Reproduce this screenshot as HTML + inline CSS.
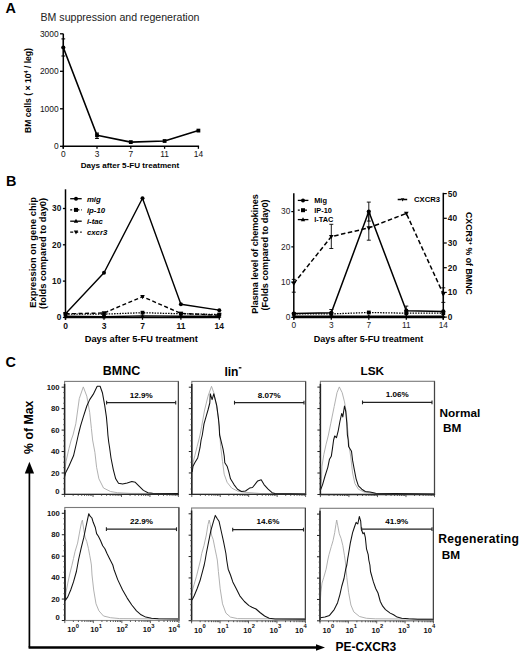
<!DOCTYPE html>
<html><head><meta charset="utf-8"><style>
html,body{margin:0;padding:0;background:#fff;}
svg{display:block;font-family:"Liberation Sans", sans-serif;}
</style></head><body>
<svg width="520" height="655" viewBox="0 0 520 655">
<rect width="520" height="655" fill="#fff"/>
<text x="5.4" y="12.9" font-size="14.4" font-weight="bold" font-style="normal" text-anchor="start" fill="#000" >A</text>
<text x="40.5" y="21.4" font-size="10.6" font-weight="normal" font-style="normal" text-anchor="start" fill="#222" >BM suppression and regeneration</text>
<line x1="63.3" y1="33.7" x2="63.3" y2="148.6" stroke="#000" stroke-width="1.5" stroke-linecap="butt"/>
<line x1="62.6" y1="146.3" x2="199.1" y2="146.3" stroke="#000" stroke-width="1.5" stroke-linecap="butt"/>
<line x1="60.0" y1="33.80000000000001" x2="63.3" y2="33.80000000000001" stroke="#000" stroke-width="1.3" stroke-linecap="butt"/>
<text x="58.6" y="36.80000000000001" font-size="8.4" font-weight="normal" font-style="normal" text-anchor="end" fill="#111" >3000</text>
<line x1="60.0" y1="71.30000000000001" x2="63.3" y2="71.30000000000001" stroke="#000" stroke-width="1.3" stroke-linecap="butt"/>
<text x="58.6" y="74.30000000000001" font-size="8.4" font-weight="normal" font-style="normal" text-anchor="end" fill="#111" >2000</text>
<line x1="60.0" y1="108.80000000000001" x2="63.3" y2="108.80000000000001" stroke="#000" stroke-width="1.3" stroke-linecap="butt"/>
<text x="58.6" y="111.80000000000001" font-size="8.4" font-weight="normal" font-style="normal" text-anchor="end" fill="#111" >1000</text>
<line x1="60.0" y1="146.3" x2="63.3" y2="146.3" stroke="#000" stroke-width="1.3" stroke-linecap="butt"/>
<text x="58.6" y="149.3" font-size="8.4" font-weight="normal" font-style="normal" text-anchor="end" fill="#111" >0</text>
<line x1="63.3" y1="146.3" x2="63.3" y2="148.8" stroke="#000" stroke-width="1.3" stroke-linecap="butt"/>
<text x="63.3" y="156.6" font-size="8.4" font-weight="normal" font-style="normal" text-anchor="middle" fill="#111" >0</text>
<line x1="97.0" y1="146.3" x2="97.0" y2="148.8" stroke="#000" stroke-width="1.3" stroke-linecap="butt"/>
<text x="97.0" y="156.6" font-size="8.4" font-weight="normal" font-style="normal" text-anchor="middle" fill="#111" >3</text>
<line x1="130.8" y1="146.3" x2="130.8" y2="148.8" stroke="#000" stroke-width="1.3" stroke-linecap="butt"/>
<text x="130.8" y="156.6" font-size="8.4" font-weight="normal" font-style="normal" text-anchor="middle" fill="#111" >7</text>
<line x1="164.6" y1="146.3" x2="164.6" y2="148.8" stroke="#000" stroke-width="1.3" stroke-linecap="butt"/>
<text x="164.6" y="156.6" font-size="8.4" font-weight="normal" font-style="normal" text-anchor="middle" fill="#111" >11</text>
<line x1="198.4" y1="146.3" x2="198.4" y2="148.8" stroke="#000" stroke-width="1.3" stroke-linecap="butt"/>
<text x="198.4" y="156.6" font-size="8.4" font-weight="normal" font-style="normal" text-anchor="middle" fill="#111" >14</text>
<text x="130.0" y="168.0" font-size="8.1" font-weight="bold" font-style="normal" text-anchor="middle" fill="#000" >Days after 5-FU treatment</text>
<text transform="translate(30.8,90.5) rotate(-90)" font-size="8.6" font-weight="bold" text-anchor="middle" fill="#000">BM cells ( &#215; 10<tspan dy="-3" font-size="5.5">4</tspan><tspan dy="3"> / leg)</tspan></text>
<polyline points="63.3,47.5 97.0,135.3 130.8,142.1 164.6,141.0 198.4,130.6" fill="none" stroke="#000" stroke-width="1.6" stroke-linejoin="round"/>
<line x1="63.3" y1="38.9" x2="63.3" y2="56.0" stroke="#000" stroke-width="1.0" stroke-linecap="butt"/>
<line x1="61.4" y1="38.9" x2="65.2" y2="38.9" stroke="#000" stroke-width="1.0" stroke-linecap="butt"/>
<line x1="61.4" y1="56.0" x2="65.2" y2="56.0" stroke="#000" stroke-width="1.0" stroke-linecap="butt"/>
<line x1="97.0" y1="133.0" x2="97.0" y2="138.5" stroke="#000" stroke-width="1.0" stroke-linecap="butt"/>
<line x1="95.1" y1="133.0" x2="98.9" y2="133.0" stroke="#000" stroke-width="1.0" stroke-linecap="butt"/>
<line x1="95.1" y1="138.5" x2="98.9" y2="138.5" stroke="#000" stroke-width="1.0" stroke-linecap="butt"/>
<circle cx="63.3" cy="47.5" r="2.1" fill="#000"/>
<rect x="95.1" y="133.4" width="3.8" height="3.8" fill="#000"/>
<rect x="128.9" y="140.2" width="3.8" height="3.8" fill="#000"/>
<rect x="162.7" y="139.1" width="3.8" height="3.8" fill="#000"/>
<rect x="196.5" y="128.7" width="3.8" height="3.8" fill="#000"/>
<text x="5.9" y="186.3" font-size="14.4" font-weight="bold" font-style="normal" text-anchor="start" fill="#000" >B</text>
<line x1="65.5" y1="189.3" x2="65.5" y2="319.6" stroke="#000" stroke-width="1.5" stroke-linecap="butt"/>
<line x1="64.8" y1="317.4" x2="220.0" y2="317.4" stroke="#000" stroke-width="1.5" stroke-linecap="butt"/>
<line x1="62.9" y1="208.5" x2="65.5" y2="208.5" stroke="#000" stroke-width="1.3" stroke-linecap="butt"/>
<text x="61.3" y="211.4" font-size="8.3" font-weight="bold" font-style="normal" text-anchor="end" fill="#111" >30</text>
<line x1="62.9" y1="244.79999999999998" x2="65.5" y2="244.79999999999998" stroke="#000" stroke-width="1.3" stroke-linecap="butt"/>
<text x="61.3" y="247.7" font-size="8.3" font-weight="bold" font-style="normal" text-anchor="end" fill="#111" >20</text>
<line x1="62.9" y1="281.09999999999997" x2="65.5" y2="281.09999999999997" stroke="#000" stroke-width="1.3" stroke-linecap="butt"/>
<text x="61.3" y="283.99999999999994" font-size="8.3" font-weight="bold" font-style="normal" text-anchor="end" fill="#111" >10</text>
<line x1="62.9" y1="317.4" x2="65.5" y2="317.4" stroke="#000" stroke-width="1.3" stroke-linecap="butt"/>
<text x="61.3" y="320.29999999999995" font-size="8.3" font-weight="bold" font-style="normal" text-anchor="end" fill="#111" >0</text>
<line x1="65.5" y1="317.4" x2="65.5" y2="319.8" stroke="#000" stroke-width="1.3" stroke-linecap="butt"/>
<text x="65.5" y="329.2" font-size="8.5" font-weight="bold" font-style="normal" text-anchor="middle" fill="#111" >0</text>
<line x1="104.0" y1="317.4" x2="104.0" y2="319.8" stroke="#000" stroke-width="1.3" stroke-linecap="butt"/>
<text x="104.0" y="329.2" font-size="8.5" font-weight="bold" font-style="normal" text-anchor="middle" fill="#111" >3</text>
<line x1="142.5" y1="317.4" x2="142.5" y2="319.8" stroke="#000" stroke-width="1.3" stroke-linecap="butt"/>
<text x="142.5" y="329.2" font-size="8.5" font-weight="bold" font-style="normal" text-anchor="middle" fill="#111" >7</text>
<line x1="180.9" y1="317.4" x2="180.9" y2="319.8" stroke="#000" stroke-width="1.3" stroke-linecap="butt"/>
<text x="180.9" y="329.2" font-size="8.5" font-weight="bold" font-style="normal" text-anchor="middle" fill="#111" >11</text>
<line x1="219.3" y1="317.4" x2="219.3" y2="319.8" stroke="#000" stroke-width="1.3" stroke-linecap="butt"/>
<text x="219.3" y="329.2" font-size="8.5" font-weight="bold" font-style="normal" text-anchor="middle" fill="#111" >14</text>
<text x="141.3" y="342.2" font-size="9.3" font-weight="bold" font-style="normal" text-anchor="middle" fill="#000" >Days after 5-FU treatment</text>
<text transform="translate(35.6,252.4) rotate(-90)" font-size="9.35" font-weight="bold" text-anchor="middle" fill="#000">Expression on gene chip</text>
<text transform="translate(45.9,253.4) rotate(-90)" font-size="9.35" font-weight="bold" text-anchor="middle" fill="#000">(folds compared to day0)</text>
<polyline points="65.5,316.3 104.0,316.7 142.5,315.9 180.9,316.3 219.3,316.3" fill="none" stroke="#000" stroke-width="1.4" stroke-linejoin="round"/>
<polyline points="65.5,314.1 104.0,314.1 142.5,312.7 180.9,313.8 219.3,314.5" fill="none" stroke="#000" stroke-width="1.3" stroke-linejoin="round" stroke-dasharray="1.5,1.2"/>
<polyline points="65.5,313.8 104.0,313.0 142.5,296.7 180.9,313.4 219.3,315.2" fill="none" stroke="#000" stroke-width="1.4" stroke-linejoin="round" stroke-dasharray="4,2.5"/>
<polyline points="65.5,313.8 104.0,272.8 142.5,198.3 180.9,304.3 219.3,310.1" fill="none" stroke="#000" stroke-width="1.4" stroke-linejoin="round"/>
<polygon points="65.5,314.031 63.41,317.83099999999996 67.59,317.83099999999996" fill="#000"/>
<polygon points="104.0,314.394 101.91,318.19399999999996 106.09,318.19399999999996" fill="#000"/>
<polygon points="142.5,313.668 140.41,317.46799999999996 144.59,317.46799999999996" fill="#000"/>
<polygon points="180.9,314.031 178.81,317.83099999999996 182.99,317.83099999999996" fill="#000"/>
<polygon points="219.3,314.031 217.21,317.83099999999996 221.39000000000001,317.83099999999996" fill="#000"/>
<rect x="63.6" y="312.233" width="3.8" height="3.8" fill="#000"/>
<rect x="102.1" y="312.233" width="3.8" height="3.8" fill="#000"/>
<rect x="140.6" y="310.781" width="3.8" height="3.8" fill="#000"/>
<rect x="179.0" y="311.87" width="3.8" height="3.8" fill="#000"/>
<rect x="217.4" y="312.596" width="3.8" height="3.8" fill="#000"/>
<polygon points="65.5,316.28999999999996 63.19,312.09 67.81,312.09" fill="#000"/>
<polygon points="104.0,315.56399999999996 101.69,311.364 106.31,311.364" fill="#000"/>
<polygon points="142.5,299.229 140.19,295.029 144.81,295.029" fill="#000"/>
<polygon points="180.9,315.92699999999996 178.59,311.727 183.21,311.727" fill="#000"/>
<polygon points="219.3,317.74199999999996 216.99,313.542 221.61,313.542" fill="#000"/>
<circle cx="65.5" cy="313.77" r="2.0" fill="#000"/>
<circle cx="104.0" cy="272.751" r="2.0" fill="#000"/>
<circle cx="142.5" cy="198.33599999999998" r="2.0" fill="#000"/>
<circle cx="180.9" cy="304.332" r="2.0" fill="#000"/>
<circle cx="219.3" cy="310.14" r="2.0" fill="#000"/>
<line x1="70.2" y1="198.7" x2="81.7" y2="198.7" stroke="#000" stroke-width="1.3" stroke-linecap="butt"/>
<circle cx="76.0" cy="198.7" r="2.0" fill="#000"/>
<text x="86.9" y="201.5" font-size="7.8" font-weight="bold" font-style="italic" text-anchor="start" fill="#000" >mig</text>
<line x1="70.2" y1="209.9" x2="81.7" y2="209.9" stroke="#000" stroke-width="1.3" stroke-linecap="butt" stroke-dasharray="2,1.6"/>
<rect x="74.0" y="207.9" width="4.0" height="4.0" fill="#000"/>
<text x="86.9" y="212.70000000000002" font-size="7.8" font-weight="bold" font-style="italic" text-anchor="start" fill="#000" >ip-10</text>
<line x1="70.2" y1="221.2" x2="81.7" y2="221.2" stroke="#000" stroke-width="1.3" stroke-linecap="butt"/>
<polygon points="76.0,218.79999999999998 73.8,222.79999999999998 78.2,222.79999999999998" fill="#000"/>
<text x="86.9" y="224.0" font-size="7.8" font-weight="bold" font-style="italic" text-anchor="start" fill="#000" >i-tac</text>
<line x1="70.2" y1="232.1" x2="81.7" y2="232.1" stroke="#000" stroke-width="1.3" stroke-linecap="butt" stroke-dasharray="3,2"/>
<polygon points="76.0,234.5 73.8,230.5 78.2,230.5" fill="#000"/>
<text x="86.9" y="234.9" font-size="7.8" font-weight="bold" font-style="italic" text-anchor="start" fill="#000" >cxcr3</text>
<line x1="293.8" y1="193.2" x2="293.8" y2="319.6" stroke="#000" stroke-width="1.5" stroke-linecap="butt"/>
<line x1="293.1" y1="317.4" x2="443.3" y2="317.4" stroke="#000" stroke-width="1.5" stroke-linecap="butt"/>
<line x1="443.3" y1="192.8" x2="443.3" y2="319.6" stroke="#000" stroke-width="1.5" stroke-linecap="butt"/>
<line x1="291.3" y1="211.58999999999997" x2="293.8" y2="211.58999999999997" stroke="#000" stroke-width="1.2" stroke-linecap="butt"/>
<text x="290.3" y="214.48999999999998" font-size="8.3" font-weight="normal" font-style="normal" text-anchor="end" fill="#222" >30</text>
<line x1="291.3" y1="246.85999999999996" x2="293.8" y2="246.85999999999996" stroke="#000" stroke-width="1.2" stroke-linecap="butt"/>
<text x="290.3" y="249.75999999999996" font-size="8.3" font-weight="normal" font-style="normal" text-anchor="end" fill="#222" >20</text>
<line x1="291.3" y1="282.13" x2="293.8" y2="282.13" stroke="#000" stroke-width="1.2" stroke-linecap="butt"/>
<text x="290.3" y="285.03" font-size="8.3" font-weight="normal" font-style="normal" text-anchor="end" fill="#222" >10</text>
<line x1="291.3" y1="317.4" x2="293.8" y2="317.4" stroke="#000" stroke-width="1.2" stroke-linecap="butt"/>
<text x="290.3" y="320.29999999999995" font-size="8.3" font-weight="normal" font-style="normal" text-anchor="end" fill="#222" >0</text>
<line x1="443.3" y1="193.60000000000002" x2="446.8" y2="193.60000000000002" stroke="#000" stroke-width="1.2" stroke-linecap="butt"/>
<text x="447.8" y="196.50000000000003" font-size="8.3" font-weight="bold" font-style="normal" text-anchor="start" fill="#111" >50</text>
<line x1="443.3" y1="218.3" x2="446.8" y2="218.3" stroke="#000" stroke-width="1.2" stroke-linecap="butt"/>
<text x="447.8" y="221.20000000000002" font-size="8.3" font-weight="bold" font-style="normal" text-anchor="start" fill="#111" >40</text>
<line x1="443.3" y1="243.0" x2="446.8" y2="243.0" stroke="#000" stroke-width="1.2" stroke-linecap="butt"/>
<text x="447.8" y="245.9" font-size="8.3" font-weight="bold" font-style="normal" text-anchor="start" fill="#111" >30</text>
<line x1="443.3" y1="267.70000000000005" x2="446.8" y2="267.70000000000005" stroke="#000" stroke-width="1.2" stroke-linecap="butt"/>
<text x="447.8" y="270.6" font-size="8.3" font-weight="bold" font-style="normal" text-anchor="start" fill="#111" >20</text>
<line x1="443.3" y1="292.40000000000003" x2="446.8" y2="292.40000000000003" stroke="#000" stroke-width="1.2" stroke-linecap="butt"/>
<text x="447.8" y="295.3" font-size="8.3" font-weight="bold" font-style="normal" text-anchor="start" fill="#111" >10</text>
<line x1="443.3" y1="317.1" x2="446.8" y2="317.1" stroke="#000" stroke-width="1.2" stroke-linecap="butt"/>
<text x="447.8" y="320.0" font-size="8.3" font-weight="bold" font-style="normal" text-anchor="start" fill="#111" >0</text>
<line x1="293.8" y1="317.4" x2="293.8" y2="319.8" stroke="#000" stroke-width="1.3" stroke-linecap="butt"/>
<text x="293.8" y="328.0" font-size="8.3" font-weight="normal" font-style="normal" text-anchor="middle" fill="#222" >0</text>
<line x1="331.3" y1="317.4" x2="331.3" y2="319.8" stroke="#000" stroke-width="1.3" stroke-linecap="butt"/>
<text x="331.3" y="328.0" font-size="8.3" font-weight="normal" font-style="normal" text-anchor="middle" fill="#222" >3</text>
<line x1="368.8" y1="317.4" x2="368.8" y2="319.8" stroke="#000" stroke-width="1.3" stroke-linecap="butt"/>
<text x="368.8" y="328.0" font-size="8.3" font-weight="normal" font-style="normal" text-anchor="middle" fill="#222" >7</text>
<line x1="406.3" y1="317.4" x2="406.3" y2="319.8" stroke="#000" stroke-width="1.3" stroke-linecap="butt"/>
<text x="406.3" y="328.0" font-size="8.3" font-weight="normal" font-style="normal" text-anchor="middle" fill="#222" >11</text>
<line x1="443.3" y1="317.4" x2="443.3" y2="319.8" stroke="#000" stroke-width="1.3" stroke-linecap="butt"/>
<text x="443.3" y="328.0" font-size="8.3" font-weight="normal" font-style="normal" text-anchor="middle" fill="#222" >14</text>
<text x="368.5" y="341.8" font-size="9.0" font-weight="bold" font-style="normal" text-anchor="middle" fill="#000" >Days after 5-FU treatment</text>
<text transform="translate(258.0,254.0) rotate(-90)" font-size="9.0" font-weight="bold" text-anchor="middle" fill="#000">Plasma level of chemokines</text>
<text transform="translate(268.3,255.0) rotate(-90)" font-size="9.15" font-weight="bold" text-anchor="middle" fill="#000">(Folds compared to day0)</text>
<text transform="translate(466.3,253.4) rotate(90)" font-size="8.8" font-weight="bold" text-anchor="middle" fill="#000">CXCR3<tspan dy="-3" font-size="5.5">+</tspan><tspan dy="3"> % of BMNC</tspan></text>
<polyline points="293.8,316.3 331.3,316.3 368.8,316.3 406.3,316.3 443.3,316.3" fill="none" stroke="#000" stroke-width="1.4" stroke-linejoin="round"/>
<polyline points="293.8,313.9 331.3,313.9 368.8,312.5 406.3,313.2 443.3,313.2" fill="none" stroke="#000" stroke-width="1.3" stroke-linejoin="round" stroke-dasharray="1.5,1.2"/>
<polyline points="293.8,313.5 331.3,312.8 368.8,211.6 406.3,310.7 443.3,311.4" fill="none" stroke="#000" stroke-width="1.5" stroke-linejoin="round"/>
<polyline points="293.8,283.5 331.3,236.6 368.8,227.9 406.3,213.4 443.3,294.1" fill="none" stroke="#000" stroke-width="1.5" stroke-linejoin="round" stroke-dasharray="4.5,2.5"/>
<line x1="368.8" y1="202.1" x2="368.8" y2="221.1" stroke="#000" stroke-width="0.9" stroke-linecap="butt"/>
<line x1="366.8" y1="202.1" x2="370.8" y2="202.1" stroke="#000" stroke-width="0.9" stroke-linecap="butt"/>
<line x1="366.8" y1="221.1" x2="370.8" y2="221.1" stroke="#000" stroke-width="0.9" stroke-linecap="butt"/>
<line x1="368.8" y1="214.0" x2="368.8" y2="240.2" stroke="#000" stroke-width="0.9" stroke-linecap="butt"/>
<line x1="366.8" y1="214.0" x2="370.8" y2="214.0" stroke="#000" stroke-width="0.9" stroke-linecap="butt"/>
<line x1="366.8" y1="240.2" x2="370.8" y2="240.2" stroke="#000" stroke-width="0.9" stroke-linecap="butt"/>
<line x1="331.3" y1="224.3" x2="331.3" y2="248.5" stroke="#000" stroke-width="0.9" stroke-linecap="butt"/>
<line x1="329.3" y1="224.3" x2="333.3" y2="224.3" stroke="#000" stroke-width="0.9" stroke-linecap="butt"/>
<line x1="329.3" y1="248.5" x2="333.3" y2="248.5" stroke="#000" stroke-width="0.9" stroke-linecap="butt"/>
<line x1="293.8" y1="279.4" x2="293.8" y2="292.2" stroke="#000" stroke-width="0.9" stroke-linecap="butt"/>
<line x1="291.8" y1="279.4" x2="295.8" y2="279.4" stroke="#000" stroke-width="0.9" stroke-linecap="butt"/>
<line x1="291.8" y1="292.2" x2="295.8" y2="292.2" stroke="#000" stroke-width="0.9" stroke-linecap="butt"/>
<line x1="443.3" y1="287.8" x2="443.3" y2="302.4" stroke="#000" stroke-width="0.9" stroke-linecap="butt"/>
<line x1="441.3" y1="287.8" x2="445.3" y2="287.8" stroke="#000" stroke-width="0.9" stroke-linecap="butt"/>
<line x1="441.3" y1="302.4" x2="445.3" y2="302.4" stroke="#000" stroke-width="0.9" stroke-linecap="butt"/>
<line x1="406.3" y1="306.1" x2="406.3" y2="310.7" stroke="#000" stroke-width="0.9" stroke-linecap="butt"/>
<line x1="404.3" y1="306.1" x2="408.3" y2="306.1" stroke="#000" stroke-width="0.9" stroke-linecap="butt"/>
<line x1="404.3" y1="310.7" x2="408.3" y2="310.7" stroke="#000" stroke-width="0.9" stroke-linecap="butt"/>
<line x1="331.3" y1="309.5" x2="331.3" y2="313.0" stroke="#000" stroke-width="0.9" stroke-linecap="butt"/>
<line x1="329.3" y1="309.5" x2="333.3" y2="309.5" stroke="#000" stroke-width="0.9" stroke-linecap="butt"/>
<line x1="329.3" y1="313.0" x2="333.3" y2="313.0" stroke="#000" stroke-width="0.9" stroke-linecap="butt"/>
<polygon points="293.8,314.0619 291.71000000000004,317.86189999999993 295.89,317.86189999999993" fill="#000"/>
<polygon points="331.3,314.0619 329.21000000000004,317.86189999999993 333.39,317.86189999999993" fill="#000"/>
<polygon points="368.8,314.0619 366.71000000000004,317.86189999999993 370.89,317.86189999999993" fill="#000"/>
<polygon points="406.3,314.0619 404.21000000000004,317.86189999999993 408.39,317.86189999999993" fill="#000"/>
<polygon points="443.3,314.0619 441.21000000000004,317.86189999999993 445.39,317.86189999999993" fill="#000"/>
<rect x="291.90000000000003" y="311.973" width="3.8" height="3.8" fill="#000"/>
<rect x="329.40000000000003" y="311.973" width="3.8" height="3.8" fill="#000"/>
<rect x="366.90000000000003" y="310.5622" width="3.8" height="3.8" fill="#000"/>
<rect x="404.40000000000003" y="311.2676" width="3.8" height="3.8" fill="#000"/>
<rect x="441.40000000000003" y="311.2676" width="3.8" height="3.8" fill="#000"/>
<circle cx="293.8" cy="313.52029999999996" r="2.1" fill="#000"/>
<circle cx="331.3" cy="312.81489999999997" r="2.1" fill="#000"/>
<circle cx="368.8" cy="211.58999999999997" r="2.1" fill="#000"/>
<circle cx="406.3" cy="310.6987" r="2.1" fill="#000"/>
<circle cx="443.3" cy="311.40409999999997" r="2.1" fill="#000"/>
<polygon points="293.8,286.028 291.49,281.82800000000003 296.11,281.82800000000003" fill="#000"/>
<polygon points="331.3,239.09800000000004 328.99,234.89800000000002 333.61,234.89800000000002" fill="#000"/>
<polygon points="368.8,230.453 366.49,226.253 371.11,226.253" fill="#000"/>
<polygon points="406.3,215.88000000000002 403.99,211.68 408.61,211.68" fill="#000"/>
<polygon points="443.3,296.649 440.99,292.449 445.61,292.449" fill="#000"/>
<line x1="297.8" y1="200.4" x2="308.4" y2="200.4" stroke="#000" stroke-width="1.3" stroke-linecap="butt"/>
<circle cx="303.0" cy="200.4" r="2.0" fill="#000"/>
<text x="314.2" y="203.0" font-size="7.4" font-weight="bold" font-style="normal" text-anchor="start" fill="#000" >Mig</text>
<line x1="297.8" y1="210.2" x2="308.4" y2="210.2" stroke="#000" stroke-width="1.3" stroke-linecap="butt" stroke-dasharray="2,1.6"/>
<rect x="301.0" y="208.2" width="4.0" height="4.0" fill="#000"/>
<text x="314.2" y="212.79999999999998" font-size="7.4" font-weight="bold" font-style="normal" text-anchor="start" fill="#000" >IP-10</text>
<line x1="297.8" y1="219.6" x2="308.4" y2="219.6" stroke="#000" stroke-width="1.3" stroke-linecap="butt"/>
<polygon points="303.0,217.2 300.8,221.2 305.2,221.2" fill="#000"/>
<text x="314.2" y="222.2" font-size="7.4" font-weight="bold" font-style="normal" text-anchor="start" fill="#000" >I-TAC</text>
<line x1="397.7" y1="199.5" x2="407.6" y2="199.5" stroke="#000" stroke-width="1.3" stroke-linecap="butt" stroke-dasharray="4,1.5"/>
<polygon points="402.6,201.42 400.84000000000003,198.22 404.36,198.22" fill="#000"/>
<text x="414.0" y="202.2" font-size="7.7" font-weight="bold" font-style="normal" text-anchor="start" fill="#000" >CXCR3</text>
<text x="5.6" y="366.8" font-size="14.4" font-weight="bold" font-style="normal" text-anchor="start" fill="#000" >C</text>
<text x="121.5" y="374.8" font-size="12.5" font-weight="bold" font-style="normal" text-anchor="middle" fill="#000" >BMNC</text>
<text x="224.4" y="375.7" font-size="12.1" font-weight="bold" font-style="normal" text-anchor="start" fill="#000" >lin</text>
<line x1="238.8" y1="367.8" x2="241.4" y2="367.8" stroke="#000" stroke-width="1.3" stroke-linecap="butt"/>
<text x="372.3" y="374.6" font-size="11.8" font-weight="bold" font-style="normal" text-anchor="middle" fill="#000" >LSK</text>
<text x="439.6" y="416.7" font-size="11.8" font-weight="bold" font-style="normal" text-anchor="start" fill="#000" >Normal</text>
<text x="443.0" y="431.7" font-size="11.8" font-weight="bold" font-style="normal" text-anchor="start" fill="#000" >BM</text>
<text x="438.3" y="543.3" font-size="12.1" font-weight="bold" font-style="normal" text-anchor="start" fill="#000" letter-spacing="0.3">Regenerating</text>
<text x="441.8" y="558.5" font-size="11.8" font-weight="bold" font-style="normal" text-anchor="start" fill="#000" >BM</text>
<text x="335.6" y="650.8" font-size="12.0" font-weight="bold" font-style="normal" text-anchor="start" fill="#000" >PE-CXCR3</text>
<text transform="translate(33.0,427.3) rotate(-90)" font-size="12.3" font-weight="bold" text-anchor="middle" fill="#000">% of Max</text>
<line x1="29.4" y1="470.0" x2="29.4" y2="647.5" stroke="#000" stroke-width="1.7" stroke-linecap="butt"/>
<line x1="28.6" y1="647.5" x2="317.5" y2="647.5" stroke="#000" stroke-width="2.4" stroke-linecap="butt"/>
<polygon points="29.4,461.7 24.8,473.4 34.1,473.4" fill="#000"/>
<polygon points="325.0,647.5 316.0,644.2 316.0,650.8" fill="#000"/>
<rect x="64.6" y="381.4" width="113.80000000000001" height="113.0" fill="none" stroke="#7a7a7a" stroke-width="1.1"/>
<line x1="178.4" y1="381.4" x2="178.4" y2="494.4" stroke="#444" stroke-width="1.2" stroke-linecap="butt"/>
<polyline points="64.6,473.0 66.0,461.5 68.9,448.8 71.2,440.0 73.0,435.0 75.8,423.8 79.3,398.5 83.3,386.9 86.8,396.2 89.7,412.3 91.4,428.5 92.6,440.0 94.9,452.3 96.6,467.3 98.9,478.8 103.5,488.0 110.5,491.5 117.4,492.7 130.0,493.4 178.0,493.6" fill="none" stroke="#a8a8a8" stroke-width="0.9" stroke-linejoin="round"/>
<polyline points="64.6,476.5 65.5,473.0 68.9,466.2 73.5,455.8 76.5,443.0 78.5,434.0 80.5,426.2 83.3,416.9 86.8,406.0 89.7,399.6 93.2,394.4 97.2,386.3 100.1,386.3 102.4,392.7 104.7,405.4 106.4,416.9 107.4,428.0 107.9,435.0 108.7,442.0 109.5,447.0 111.0,458.0 113.3,469.6 115.7,478.8 118.5,483.2 122.6,484.0 127.2,482.9 131.8,481.5 135.3,482.3 138.8,485.8 143.4,490.4 148.0,492.7 152.6,493.3 178.0,493.6" fill="none" stroke="#111" stroke-width="1.05" stroke-linejoin="round"/>
<line x1="64.6" y1="383.9" x2="64.6" y2="495.0" stroke="#222" stroke-width="1.5" stroke-linecap="butt"/>
<line x1="63.99999999999999" y1="494.4" x2="179.0" y2="494.4" stroke="#2a2a2a" stroke-width="1.4" stroke-linecap="butt"/>
<line x1="61.599999999999994" y1="494.4" x2="64.6" y2="494.4" stroke="#222" stroke-width="1.0" stroke-linecap="butt"/>
<line x1="63.199999999999996" y1="489.03999999999996" x2="64.6" y2="489.03999999999996" stroke="#444" stroke-width="0.8" stroke-linecap="butt"/>
<line x1="63.199999999999996" y1="483.67999999999995" x2="64.6" y2="483.67999999999995" stroke="#444" stroke-width="0.8" stroke-linecap="butt"/>
<line x1="63.199999999999996" y1="478.32" x2="64.6" y2="478.32" stroke="#444" stroke-width="0.8" stroke-linecap="butt"/>
<line x1="61.599999999999994" y1="472.96" x2="64.6" y2="472.96" stroke="#222" stroke-width="1.0" stroke-linecap="butt"/>
<line x1="63.199999999999996" y1="467.59999999999997" x2="64.6" y2="467.59999999999997" stroke="#444" stroke-width="0.8" stroke-linecap="butt"/>
<line x1="63.199999999999996" y1="462.23999999999995" x2="64.6" y2="462.23999999999995" stroke="#444" stroke-width="0.8" stroke-linecap="butt"/>
<line x1="63.199999999999996" y1="456.88" x2="64.6" y2="456.88" stroke="#444" stroke-width="0.8" stroke-linecap="butt"/>
<line x1="61.599999999999994" y1="451.52" x2="64.6" y2="451.52" stroke="#222" stroke-width="1.0" stroke-linecap="butt"/>
<line x1="63.199999999999996" y1="446.15999999999997" x2="64.6" y2="446.15999999999997" stroke="#444" stroke-width="0.8" stroke-linecap="butt"/>
<line x1="63.199999999999996" y1="440.79999999999995" x2="64.6" y2="440.79999999999995" stroke="#444" stroke-width="0.8" stroke-linecap="butt"/>
<line x1="63.199999999999996" y1="435.44" x2="64.6" y2="435.44" stroke="#444" stroke-width="0.8" stroke-linecap="butt"/>
<line x1="61.599999999999994" y1="430.08" x2="64.6" y2="430.08" stroke="#222" stroke-width="1.0" stroke-linecap="butt"/>
<line x1="63.199999999999996" y1="424.71999999999997" x2="64.6" y2="424.71999999999997" stroke="#444" stroke-width="0.8" stroke-linecap="butt"/>
<line x1="63.199999999999996" y1="419.35999999999996" x2="64.6" y2="419.35999999999996" stroke="#444" stroke-width="0.8" stroke-linecap="butt"/>
<line x1="63.199999999999996" y1="414.0" x2="64.6" y2="414.0" stroke="#444" stroke-width="0.8" stroke-linecap="butt"/>
<line x1="61.599999999999994" y1="408.64" x2="64.6" y2="408.64" stroke="#222" stroke-width="1.0" stroke-linecap="butt"/>
<line x1="63.199999999999996" y1="403.28" x2="64.6" y2="403.28" stroke="#444" stroke-width="0.8" stroke-linecap="butt"/>
<line x1="63.199999999999996" y1="397.91999999999996" x2="64.6" y2="397.91999999999996" stroke="#444" stroke-width="0.8" stroke-linecap="butt"/>
<line x1="63.199999999999996" y1="392.55999999999995" x2="64.6" y2="392.55999999999995" stroke="#444" stroke-width="0.8" stroke-linecap="butt"/>
<line x1="61.599999999999994" y1="387.2" x2="64.6" y2="387.2" stroke="#222" stroke-width="1.0" stroke-linecap="butt"/>
<line x1="64.6" y1="494.4" x2="64.6" y2="497.0" stroke="#333" stroke-width="0.8" stroke-linecap="butt"/>
<line x1="73.16430337664026" y1="494.4" x2="73.16430337664026" y2="495.9" stroke="#333" stroke-width="0.8" stroke-linecap="butt"/>
<line x1="78.17409969677439" y1="494.4" x2="78.17409969677439" y2="495.9" stroke="#333" stroke-width="0.8" stroke-linecap="butt"/>
<line x1="81.72860675328053" y1="494.4" x2="81.72860675328053" y2="495.9" stroke="#333" stroke-width="0.8" stroke-linecap="butt"/>
<line x1="84.48569662335973" y1="494.4" x2="84.48569662335973" y2="495.9" stroke="#333" stroke-width="0.8" stroke-linecap="butt"/>
<line x1="86.73840307341466" y1="494.4" x2="86.73840307341466" y2="495.9" stroke="#333" stroke-width="0.8" stroke-linecap="butt"/>
<line x1="88.6430392384056" y1="494.4" x2="88.6430392384056" y2="495.9" stroke="#333" stroke-width="0.8" stroke-linecap="butt"/>
<line x1="90.29291012992078" y1="494.4" x2="90.29291012992078" y2="495.9" stroke="#333" stroke-width="0.8" stroke-linecap="butt"/>
<line x1="91.74819939354879" y1="494.4" x2="91.74819939354879" y2="495.9" stroke="#333" stroke-width="0.8" stroke-linecap="butt"/>
<line x1="93.05" y1="494.4" x2="93.05" y2="497.0" stroke="#333" stroke-width="0.8" stroke-linecap="butt"/>
<line x1="101.61430337664027" y1="494.4" x2="101.61430337664027" y2="495.9" stroke="#333" stroke-width="0.8" stroke-linecap="butt"/>
<line x1="106.6240996967744" y1="494.4" x2="106.6240996967744" y2="495.9" stroke="#333" stroke-width="0.8" stroke-linecap="butt"/>
<line x1="110.17860675328053" y1="494.4" x2="110.17860675328053" y2="495.9" stroke="#333" stroke-width="0.8" stroke-linecap="butt"/>
<line x1="112.93569662335973" y1="494.4" x2="112.93569662335973" y2="495.9" stroke="#333" stroke-width="0.8" stroke-linecap="butt"/>
<line x1="115.18840307341466" y1="494.4" x2="115.18840307341466" y2="495.9" stroke="#333" stroke-width="0.8" stroke-linecap="butt"/>
<line x1="117.09303923840561" y1="494.4" x2="117.09303923840561" y2="495.9" stroke="#333" stroke-width="0.8" stroke-linecap="butt"/>
<line x1="118.7429101299208" y1="494.4" x2="118.7429101299208" y2="495.9" stroke="#333" stroke-width="0.8" stroke-linecap="butt"/>
<line x1="120.19819939354879" y1="494.4" x2="120.19819939354879" y2="495.9" stroke="#333" stroke-width="0.8" stroke-linecap="butt"/>
<line x1="121.5" y1="494.4" x2="121.5" y2="497.0" stroke="#333" stroke-width="0.8" stroke-linecap="butt"/>
<line x1="130.06430337664028" y1="494.4" x2="130.06430337664028" y2="495.9" stroke="#333" stroke-width="0.8" stroke-linecap="butt"/>
<line x1="135.0740996967744" y1="494.4" x2="135.0740996967744" y2="495.9" stroke="#333" stroke-width="0.8" stroke-linecap="butt"/>
<line x1="138.62860675328054" y1="494.4" x2="138.62860675328054" y2="495.9" stroke="#333" stroke-width="0.8" stroke-linecap="butt"/>
<line x1="141.38569662335973" y1="494.4" x2="141.38569662335973" y2="495.9" stroke="#333" stroke-width="0.8" stroke-linecap="butt"/>
<line x1="143.63840307341468" y1="494.4" x2="143.63840307341468" y2="495.9" stroke="#333" stroke-width="0.8" stroke-linecap="butt"/>
<line x1="145.5430392384056" y1="494.4" x2="145.5430392384056" y2="495.9" stroke="#333" stroke-width="0.8" stroke-linecap="butt"/>
<line x1="147.1929101299208" y1="494.4" x2="147.1929101299208" y2="495.9" stroke="#333" stroke-width="0.8" stroke-linecap="butt"/>
<line x1="148.6481993935488" y1="494.4" x2="148.6481993935488" y2="495.9" stroke="#333" stroke-width="0.8" stroke-linecap="butt"/>
<line x1="149.95" y1="494.4" x2="149.95" y2="497.0" stroke="#333" stroke-width="0.8" stroke-linecap="butt"/>
<line x1="158.51430337664027" y1="494.4" x2="158.51430337664027" y2="495.9" stroke="#333" stroke-width="0.8" stroke-linecap="butt"/>
<line x1="163.52409969677439" y1="494.4" x2="163.52409969677439" y2="495.9" stroke="#333" stroke-width="0.8" stroke-linecap="butt"/>
<line x1="167.07860675328055" y1="494.4" x2="167.07860675328055" y2="495.9" stroke="#333" stroke-width="0.8" stroke-linecap="butt"/>
<line x1="169.83569662335975" y1="494.4" x2="169.83569662335975" y2="495.9" stroke="#333" stroke-width="0.8" stroke-linecap="butt"/>
<line x1="172.08840307341467" y1="494.4" x2="172.08840307341467" y2="495.9" stroke="#333" stroke-width="0.8" stroke-linecap="butt"/>
<line x1="173.99303923840563" y1="494.4" x2="173.99303923840563" y2="495.9" stroke="#333" stroke-width="0.8" stroke-linecap="butt"/>
<line x1="175.6429101299208" y1="494.4" x2="175.6429101299208" y2="495.9" stroke="#333" stroke-width="0.8" stroke-linecap="butt"/>
<line x1="177.09819939354878" y1="494.4" x2="177.09819939354878" y2="495.9" stroke="#333" stroke-width="0.8" stroke-linecap="butt"/>
<line x1="178.4" y1="494.4" x2="178.4" y2="497.0" stroke="#333" stroke-width="0.8" stroke-linecap="butt"/>
<line x1="106.6" y1="402.7" x2="175.7" y2="402.7" stroke="#222" stroke-width="1.3" stroke-linecap="butt"/>
<line x1="106.6" y1="400.8" x2="106.6" y2="404.59999999999997" stroke="#222" stroke-width="1.1" stroke-linecap="butt"/>
<line x1="175.7" y1="400.8" x2="175.7" y2="404.59999999999997" stroke="#222" stroke-width="1.1" stroke-linecap="butt"/>
<text x="141.14999999999998" y="397.5" font-size="8.1" font-weight="bold" font-style="normal" text-anchor="middle" fill="#000" >12.9%</text>
<text x="59.599999999999994" y="494.29999999999995" font-size="7.7" font-weight="bold" font-style="normal" text-anchor="end" fill="#111" >0</text>
<text x="59.599999999999994" y="475.65999999999997" font-size="7.7" font-weight="bold" font-style="normal" text-anchor="end" fill="#111" >20</text>
<text x="59.599999999999994" y="454.21999999999997" font-size="7.7" font-weight="bold" font-style="normal" text-anchor="end" fill="#111" >40</text>
<text x="59.599999999999994" y="432.78" font-size="7.7" font-weight="bold" font-style="normal" text-anchor="end" fill="#111" >60</text>
<text x="59.599999999999994" y="411.34" font-size="7.7" font-weight="bold" font-style="normal" text-anchor="end" fill="#111" >80</text>
<text x="59.599999999999994" y="389.9" font-size="7.7" font-weight="bold" font-style="normal" text-anchor="end" fill="#111" >100</text>
<rect x="191.8" y="381.4" width="113.80000000000001" height="113.0" fill="none" stroke="#7a7a7a" stroke-width="1.1"/>
<line x1="305.6" y1="381.4" x2="305.6" y2="494.4" stroke="#444" stroke-width="1.2" stroke-linecap="butt"/>
<polyline points="192.2,470.0 193.0,462.7 194.8,455.8 197.1,446.5 198.8,440.0 200.0,435.0 201.7,426.2 204.6,410.0 208.0,396.2 211.5,386.3 213.8,392.7 216.7,406.5 218.5,420.0 219.8,435.0 220.7,446.5 222.5,461.5 224.2,474.2 227.1,482.3 231.7,488.1 237.5,491.0 243.2,492.1 260.0,493.5 305.0,493.9" fill="none" stroke="#a8a8a8" stroke-width="0.9" stroke-linejoin="round"/>
<polyline points="192.2,472.0 193.0,466.2 194.8,462.7 197.7,458.0 200.0,447.7 201.1,440.0 202.3,435.0 204.0,423.8 206.3,415.8 208.0,410.0 209.8,403.0 210.3,393.8 212.1,399.6 213.8,393.8 216.7,405.4 218.4,418.1 219.2,426.2 219.6,435.0 221.3,441.9 223.0,448.8 224.2,455.8 224.8,462.7 227.1,466.2 228.8,471.9 230.5,478.8 234.0,484.6 237.5,489.2 241.5,491.5 245.5,491.0 249.6,488.1 252.5,487.5 257.7,480.9 261.2,479.8 264.0,484.6 268.1,489.2 272.1,492.7 275.0,493.5 305.0,493.9" fill="none" stroke="#111" stroke-width="1.05" stroke-linejoin="round"/>
<line x1="191.8" y1="383.9" x2="191.8" y2="495.0" stroke="#222" stroke-width="1.5" stroke-linecap="butt"/>
<line x1="191.20000000000002" y1="494.4" x2="306.20000000000005" y2="494.4" stroke="#2a2a2a" stroke-width="1.4" stroke-linecap="butt"/>
<line x1="188.8" y1="494.4" x2="191.8" y2="494.4" stroke="#222" stroke-width="1.0" stroke-linecap="butt"/>
<line x1="190.4" y1="489.03999999999996" x2="191.8" y2="489.03999999999996" stroke="#444" stroke-width="0.8" stroke-linecap="butt"/>
<line x1="190.4" y1="483.67999999999995" x2="191.8" y2="483.67999999999995" stroke="#444" stroke-width="0.8" stroke-linecap="butt"/>
<line x1="190.4" y1="478.32" x2="191.8" y2="478.32" stroke="#444" stroke-width="0.8" stroke-linecap="butt"/>
<line x1="188.8" y1="472.96" x2="191.8" y2="472.96" stroke="#222" stroke-width="1.0" stroke-linecap="butt"/>
<line x1="190.4" y1="467.59999999999997" x2="191.8" y2="467.59999999999997" stroke="#444" stroke-width="0.8" stroke-linecap="butt"/>
<line x1="190.4" y1="462.23999999999995" x2="191.8" y2="462.23999999999995" stroke="#444" stroke-width="0.8" stroke-linecap="butt"/>
<line x1="190.4" y1="456.88" x2="191.8" y2="456.88" stroke="#444" stroke-width="0.8" stroke-linecap="butt"/>
<line x1="188.8" y1="451.52" x2="191.8" y2="451.52" stroke="#222" stroke-width="1.0" stroke-linecap="butt"/>
<line x1="190.4" y1="446.15999999999997" x2="191.8" y2="446.15999999999997" stroke="#444" stroke-width="0.8" stroke-linecap="butt"/>
<line x1="190.4" y1="440.79999999999995" x2="191.8" y2="440.79999999999995" stroke="#444" stroke-width="0.8" stroke-linecap="butt"/>
<line x1="190.4" y1="435.44" x2="191.8" y2="435.44" stroke="#444" stroke-width="0.8" stroke-linecap="butt"/>
<line x1="188.8" y1="430.08" x2="191.8" y2="430.08" stroke="#222" stroke-width="1.0" stroke-linecap="butt"/>
<line x1="190.4" y1="424.71999999999997" x2="191.8" y2="424.71999999999997" stroke="#444" stroke-width="0.8" stroke-linecap="butt"/>
<line x1="190.4" y1="419.35999999999996" x2="191.8" y2="419.35999999999996" stroke="#444" stroke-width="0.8" stroke-linecap="butt"/>
<line x1="190.4" y1="414.0" x2="191.8" y2="414.0" stroke="#444" stroke-width="0.8" stroke-linecap="butt"/>
<line x1="188.8" y1="408.64" x2="191.8" y2="408.64" stroke="#222" stroke-width="1.0" stroke-linecap="butt"/>
<line x1="190.4" y1="403.28" x2="191.8" y2="403.28" stroke="#444" stroke-width="0.8" stroke-linecap="butt"/>
<line x1="190.4" y1="397.91999999999996" x2="191.8" y2="397.91999999999996" stroke="#444" stroke-width="0.8" stroke-linecap="butt"/>
<line x1="190.4" y1="392.55999999999995" x2="191.8" y2="392.55999999999995" stroke="#444" stroke-width="0.8" stroke-linecap="butt"/>
<line x1="188.8" y1="387.2" x2="191.8" y2="387.2" stroke="#222" stroke-width="1.0" stroke-linecap="butt"/>
<line x1="191.8" y1="494.4" x2="191.8" y2="497.0" stroke="#333" stroke-width="0.8" stroke-linecap="butt"/>
<line x1="200.36430337664027" y1="494.4" x2="200.36430337664027" y2="495.9" stroke="#333" stroke-width="0.8" stroke-linecap="butt"/>
<line x1="205.3740996967744" y1="494.4" x2="205.3740996967744" y2="495.9" stroke="#333" stroke-width="0.8" stroke-linecap="butt"/>
<line x1="208.92860675328055" y1="494.4" x2="208.92860675328055" y2="495.9" stroke="#333" stroke-width="0.8" stroke-linecap="butt"/>
<line x1="211.68569662335975" y1="494.4" x2="211.68569662335975" y2="495.9" stroke="#333" stroke-width="0.8" stroke-linecap="butt"/>
<line x1="213.9384030734147" y1="494.4" x2="213.9384030734147" y2="495.9" stroke="#333" stroke-width="0.8" stroke-linecap="butt"/>
<line x1="215.84303923840562" y1="494.4" x2="215.84303923840562" y2="495.9" stroke="#333" stroke-width="0.8" stroke-linecap="butt"/>
<line x1="217.4929101299208" y1="494.4" x2="217.4929101299208" y2="495.9" stroke="#333" stroke-width="0.8" stroke-linecap="butt"/>
<line x1="218.9481993935488" y1="494.4" x2="218.9481993935488" y2="495.9" stroke="#333" stroke-width="0.8" stroke-linecap="butt"/>
<line x1="220.25" y1="494.4" x2="220.25" y2="497.0" stroke="#333" stroke-width="0.8" stroke-linecap="butt"/>
<line x1="228.81430337664028" y1="494.4" x2="228.81430337664028" y2="495.9" stroke="#333" stroke-width="0.8" stroke-linecap="butt"/>
<line x1="233.8240996967744" y1="494.4" x2="233.8240996967744" y2="495.9" stroke="#333" stroke-width="0.8" stroke-linecap="butt"/>
<line x1="237.37860675328056" y1="494.4" x2="237.37860675328056" y2="495.9" stroke="#333" stroke-width="0.8" stroke-linecap="butt"/>
<line x1="240.13569662335976" y1="494.4" x2="240.13569662335976" y2="495.9" stroke="#333" stroke-width="0.8" stroke-linecap="butt"/>
<line x1="242.38840307341468" y1="494.4" x2="242.38840307341468" y2="495.9" stroke="#333" stroke-width="0.8" stroke-linecap="butt"/>
<line x1="244.29303923840564" y1="494.4" x2="244.29303923840564" y2="495.9" stroke="#333" stroke-width="0.8" stroke-linecap="butt"/>
<line x1="245.94291012992082" y1="494.4" x2="245.94291012992082" y2="495.9" stroke="#333" stroke-width="0.8" stroke-linecap="butt"/>
<line x1="247.3981993935488" y1="494.4" x2="247.3981993935488" y2="495.9" stroke="#333" stroke-width="0.8" stroke-linecap="butt"/>
<line x1="248.70000000000002" y1="494.4" x2="248.70000000000002" y2="497.0" stroke="#333" stroke-width="0.8" stroke-linecap="butt"/>
<line x1="257.26430337664027" y1="494.4" x2="257.26430337664027" y2="495.9" stroke="#333" stroke-width="0.8" stroke-linecap="butt"/>
<line x1="262.27409969677444" y1="494.4" x2="262.27409969677444" y2="495.9" stroke="#333" stroke-width="0.8" stroke-linecap="butt"/>
<line x1="265.82860675328055" y1="494.4" x2="265.82860675328055" y2="495.9" stroke="#333" stroke-width="0.8" stroke-linecap="butt"/>
<line x1="268.58569662335975" y1="494.4" x2="268.58569662335975" y2="495.9" stroke="#333" stroke-width="0.8" stroke-linecap="butt"/>
<line x1="270.83840307341467" y1="494.4" x2="270.83840307341467" y2="495.9" stroke="#333" stroke-width="0.8" stroke-linecap="butt"/>
<line x1="272.74303923840563" y1="494.4" x2="272.74303923840563" y2="495.9" stroke="#333" stroke-width="0.8" stroke-linecap="butt"/>
<line x1="274.39291012992084" y1="494.4" x2="274.39291012992084" y2="495.9" stroke="#333" stroke-width="0.8" stroke-linecap="butt"/>
<line x1="275.84819939354884" y1="494.4" x2="275.84819939354884" y2="495.9" stroke="#333" stroke-width="0.8" stroke-linecap="butt"/>
<line x1="277.15000000000003" y1="494.4" x2="277.15000000000003" y2="497.0" stroke="#333" stroke-width="0.8" stroke-linecap="butt"/>
<line x1="285.71430337664026" y1="494.4" x2="285.71430337664026" y2="495.9" stroke="#333" stroke-width="0.8" stroke-linecap="butt"/>
<line x1="290.72409969677443" y1="494.4" x2="290.72409969677443" y2="495.9" stroke="#333" stroke-width="0.8" stroke-linecap="butt"/>
<line x1="294.27860675328054" y1="494.4" x2="294.27860675328054" y2="495.9" stroke="#333" stroke-width="0.8" stroke-linecap="butt"/>
<line x1="297.03569662335974" y1="494.4" x2="297.03569662335974" y2="495.9" stroke="#333" stroke-width="0.8" stroke-linecap="butt"/>
<line x1="299.28840307341466" y1="494.4" x2="299.28840307341466" y2="495.9" stroke="#333" stroke-width="0.8" stroke-linecap="butt"/>
<line x1="301.1930392384056" y1="494.4" x2="301.1930392384056" y2="495.9" stroke="#333" stroke-width="0.8" stroke-linecap="butt"/>
<line x1="302.8429101299208" y1="494.4" x2="302.8429101299208" y2="495.9" stroke="#333" stroke-width="0.8" stroke-linecap="butt"/>
<line x1="304.2981993935488" y1="494.4" x2="304.2981993935488" y2="495.9" stroke="#333" stroke-width="0.8" stroke-linecap="butt"/>
<line x1="305.6" y1="494.4" x2="305.6" y2="497.0" stroke="#333" stroke-width="0.8" stroke-linecap="butt"/>
<line x1="234.5" y1="402.7" x2="304.0" y2="402.7" stroke="#222" stroke-width="1.3" stroke-linecap="butt"/>
<line x1="234.5" y1="400.8" x2="234.5" y2="404.59999999999997" stroke="#222" stroke-width="1.1" stroke-linecap="butt"/>
<line x1="304.0" y1="400.8" x2="304.0" y2="404.59999999999997" stroke="#222" stroke-width="1.1" stroke-linecap="butt"/>
<text x="269.25" y="397.5" font-size="8.1" font-weight="bold" font-style="normal" text-anchor="middle" fill="#000" >8.07%</text>
<rect x="320.4" y="381.3" width="114.10000000000002" height="113.19999999999999" fill="none" stroke="#7a7a7a" stroke-width="1.1"/>
<line x1="434.5" y1="381.3" x2="434.5" y2="494.5" stroke="#444" stroke-width="1.2" stroke-linecap="butt"/>
<polyline points="320.5,489.0 321.5,478.8 322.0,466.2 323.8,454.6 326.1,444.2 327.2,440.0 328.4,435.0 330.7,423.8 334.2,406.5 337.0,392.7 339.3,386.9 342.2,392.7 344.5,401.9 346.3,412.3 347.4,426.2 348.6,440.0 349.2,446.5 350.9,458.0 352.6,473.0 354.9,483.5 358.4,489.2 364.2,492.1 375.0,493.5 434.0,494.0" fill="none" stroke="#a8a8a8" stroke-width="0.9" stroke-linejoin="round"/>
<polyline points="320.5,490.0 322.6,484.6 324.9,476.5 327.8,467.3 329.5,459.2 331.3,456.3 332.4,448.8 333.6,440.0 334.7,436.0 336.5,437.7 338.2,430.8 339.9,421.5 341.7,413.5 342.8,416.9 344.5,406.0 345.7,411.2 346.8,422.7 347.4,435.0 348.2,440.0 348.6,446.5 351.5,451.2 352.6,460.4 354.3,469.6 356.1,478.8 358.4,485.8 361.8,489.2 365.3,491.5 369.9,492.1 375.7,493.3 434.0,494.0" fill="none" stroke="#111" stroke-width="1.05" stroke-linejoin="round"/>
<line x1="320.4" y1="383.8" x2="320.4" y2="495.1" stroke="#222" stroke-width="1.5" stroke-linecap="butt"/>
<line x1="319.79999999999995" y1="494.5" x2="435.1" y2="494.5" stroke="#2a2a2a" stroke-width="1.4" stroke-linecap="butt"/>
<line x1="317.4" y1="494.5" x2="320.4" y2="494.5" stroke="#222" stroke-width="1.0" stroke-linecap="butt"/>
<line x1="319.0" y1="489.13" x2="320.4" y2="489.13" stroke="#444" stroke-width="0.8" stroke-linecap="butt"/>
<line x1="319.0" y1="483.76" x2="320.4" y2="483.76" stroke="#444" stroke-width="0.8" stroke-linecap="butt"/>
<line x1="319.0" y1="478.39" x2="320.4" y2="478.39" stroke="#444" stroke-width="0.8" stroke-linecap="butt"/>
<line x1="317.4" y1="473.02" x2="320.4" y2="473.02" stroke="#222" stroke-width="1.0" stroke-linecap="butt"/>
<line x1="319.0" y1="467.65" x2="320.4" y2="467.65" stroke="#444" stroke-width="0.8" stroke-linecap="butt"/>
<line x1="319.0" y1="462.28" x2="320.4" y2="462.28" stroke="#444" stroke-width="0.8" stroke-linecap="butt"/>
<line x1="319.0" y1="456.91" x2="320.4" y2="456.91" stroke="#444" stroke-width="0.8" stroke-linecap="butt"/>
<line x1="317.4" y1="451.54" x2="320.4" y2="451.54" stroke="#222" stroke-width="1.0" stroke-linecap="butt"/>
<line x1="319.0" y1="446.17" x2="320.4" y2="446.17" stroke="#444" stroke-width="0.8" stroke-linecap="butt"/>
<line x1="319.0" y1="440.8" x2="320.4" y2="440.8" stroke="#444" stroke-width="0.8" stroke-linecap="butt"/>
<line x1="319.0" y1="435.43" x2="320.4" y2="435.43" stroke="#444" stroke-width="0.8" stroke-linecap="butt"/>
<line x1="317.4" y1="430.06" x2="320.4" y2="430.06" stroke="#222" stroke-width="1.0" stroke-linecap="butt"/>
<line x1="319.0" y1="424.69" x2="320.4" y2="424.69" stroke="#444" stroke-width="0.8" stroke-linecap="butt"/>
<line x1="319.0" y1="419.32" x2="320.4" y2="419.32" stroke="#444" stroke-width="0.8" stroke-linecap="butt"/>
<line x1="319.0" y1="413.95000000000005" x2="320.4" y2="413.95000000000005" stroke="#444" stroke-width="0.8" stroke-linecap="butt"/>
<line x1="317.4" y1="408.58000000000004" x2="320.4" y2="408.58000000000004" stroke="#222" stroke-width="1.0" stroke-linecap="butt"/>
<line x1="319.0" y1="403.21000000000004" x2="320.4" y2="403.21000000000004" stroke="#444" stroke-width="0.8" stroke-linecap="butt"/>
<line x1="319.0" y1="397.84000000000003" x2="320.4" y2="397.84000000000003" stroke="#444" stroke-width="0.8" stroke-linecap="butt"/>
<line x1="319.0" y1="392.47" x2="320.4" y2="392.47" stroke="#444" stroke-width="0.8" stroke-linecap="butt"/>
<line x1="317.4" y1="387.1" x2="320.4" y2="387.1" stroke="#222" stroke-width="1.0" stroke-linecap="butt"/>
<line x1="320.4" y1="494.5" x2="320.4" y2="497.1" stroke="#333" stroke-width="0.8" stroke-linecap="butt"/>
<line x1="328.98688062631504" y1="494.5" x2="328.98688062631504" y2="496.0" stroke="#333" stroke-width="0.8" stroke-linecap="butt"/>
<line x1="334.00988379087835" y1="494.5" x2="334.00988379087835" y2="496.0" stroke="#333" stroke-width="0.8" stroke-linecap="butt"/>
<line x1="337.5737612526301" y1="494.5" x2="337.5737612526301" y2="496.0" stroke="#333" stroke-width="0.8" stroke-linecap="butt"/>
<line x1="340.3381193736849" y1="494.5" x2="340.3381193736849" y2="496.0" stroke="#333" stroke-width="0.8" stroke-linecap="butt"/>
<line x1="342.5967644171934" y1="494.5" x2="342.5967644171934" y2="496.0" stroke="#333" stroke-width="0.8" stroke-linecap="butt"/>
<line x1="344.50642159140665" y1="494.5" x2="344.50642159140665" y2="496.0" stroke="#333" stroke-width="0.8" stroke-linecap="butt"/>
<line x1="346.16064187894517" y1="494.5" x2="346.16064187894517" y2="496.0" stroke="#333" stroke-width="0.8" stroke-linecap="butt"/>
<line x1="347.6197675817567" y1="494.5" x2="347.6197675817567" y2="496.0" stroke="#333" stroke-width="0.8" stroke-linecap="butt"/>
<line x1="348.92499999999995" y1="494.5" x2="348.92499999999995" y2="497.1" stroke="#333" stroke-width="0.8" stroke-linecap="butt"/>
<line x1="357.511880626315" y1="494.5" x2="357.511880626315" y2="496.0" stroke="#333" stroke-width="0.8" stroke-linecap="butt"/>
<line x1="362.5348837908783" y1="494.5" x2="362.5348837908783" y2="496.0" stroke="#333" stroke-width="0.8" stroke-linecap="butt"/>
<line x1="366.09876125263014" y1="494.5" x2="366.09876125263014" y2="496.0" stroke="#333" stroke-width="0.8" stroke-linecap="butt"/>
<line x1="368.8631193736849" y1="494.5" x2="368.8631193736849" y2="496.0" stroke="#333" stroke-width="0.8" stroke-linecap="butt"/>
<line x1="371.12176441719345" y1="494.5" x2="371.12176441719345" y2="496.0" stroke="#333" stroke-width="0.8" stroke-linecap="butt"/>
<line x1="373.0314215914067" y1="494.5" x2="373.0314215914067" y2="496.0" stroke="#333" stroke-width="0.8" stroke-linecap="butt"/>
<line x1="374.68564187894515" y1="494.5" x2="374.68564187894515" y2="496.0" stroke="#333" stroke-width="0.8" stroke-linecap="butt"/>
<line x1="376.1447675817567" y1="494.5" x2="376.1447675817567" y2="496.0" stroke="#333" stroke-width="0.8" stroke-linecap="butt"/>
<line x1="377.45" y1="494.5" x2="377.45" y2="497.1" stroke="#333" stroke-width="0.8" stroke-linecap="butt"/>
<line x1="386.03688062631505" y1="494.5" x2="386.03688062631505" y2="496.0" stroke="#333" stroke-width="0.8" stroke-linecap="butt"/>
<line x1="391.05988379087836" y1="494.5" x2="391.05988379087836" y2="496.0" stroke="#333" stroke-width="0.8" stroke-linecap="butt"/>
<line x1="394.6237612526301" y1="494.5" x2="394.6237612526301" y2="496.0" stroke="#333" stroke-width="0.8" stroke-linecap="butt"/>
<line x1="397.38811937368496" y1="494.5" x2="397.38811937368496" y2="496.0" stroke="#333" stroke-width="0.8" stroke-linecap="butt"/>
<line x1="399.6467644171934" y1="494.5" x2="399.6467644171934" y2="496.0" stroke="#333" stroke-width="0.8" stroke-linecap="butt"/>
<line x1="401.55642159140666" y1="494.5" x2="401.55642159140666" y2="496.0" stroke="#333" stroke-width="0.8" stroke-linecap="butt"/>
<line x1="403.2106418789452" y1="494.5" x2="403.2106418789452" y2="496.0" stroke="#333" stroke-width="0.8" stroke-linecap="butt"/>
<line x1="404.66976758175673" y1="494.5" x2="404.66976758175673" y2="496.0" stroke="#333" stroke-width="0.8" stroke-linecap="butt"/>
<line x1="405.975" y1="494.5" x2="405.975" y2="497.1" stroke="#333" stroke-width="0.8" stroke-linecap="butt"/>
<line x1="414.5618806263151" y1="494.5" x2="414.5618806263151" y2="496.0" stroke="#333" stroke-width="0.8" stroke-linecap="butt"/>
<line x1="419.5848837908784" y1="494.5" x2="419.5848837908784" y2="496.0" stroke="#333" stroke-width="0.8" stroke-linecap="butt"/>
<line x1="423.14876125263015" y1="494.5" x2="423.14876125263015" y2="496.0" stroke="#333" stroke-width="0.8" stroke-linecap="butt"/>
<line x1="425.91311937368494" y1="494.5" x2="425.91311937368494" y2="496.0" stroke="#333" stroke-width="0.8" stroke-linecap="butt"/>
<line x1="428.17176441719346" y1="494.5" x2="428.17176441719346" y2="496.0" stroke="#333" stroke-width="0.8" stroke-linecap="butt"/>
<line x1="430.0814215914067" y1="494.5" x2="430.0814215914067" y2="496.0" stroke="#333" stroke-width="0.8" stroke-linecap="butt"/>
<line x1="431.7356418789452" y1="494.5" x2="431.7356418789452" y2="496.0" stroke="#333" stroke-width="0.8" stroke-linecap="butt"/>
<line x1="433.19476758175676" y1="494.5" x2="433.19476758175676" y2="496.0" stroke="#333" stroke-width="0.8" stroke-linecap="butt"/>
<line x1="434.5" y1="494.5" x2="434.5" y2="497.1" stroke="#333" stroke-width="0.8" stroke-linecap="butt"/>
<line x1="362.5" y1="402.4" x2="432.0" y2="402.4" stroke="#222" stroke-width="1.3" stroke-linecap="butt"/>
<line x1="362.5" y1="400.5" x2="362.5" y2="404.29999999999995" stroke="#222" stroke-width="1.1" stroke-linecap="butt"/>
<line x1="432.0" y1="400.5" x2="432.0" y2="404.29999999999995" stroke="#222" stroke-width="1.1" stroke-linecap="butt"/>
<text x="397.25" y="397.2" font-size="8.1" font-weight="bold" font-style="normal" text-anchor="middle" fill="#000" >1.06%</text>
<rect x="64.8" y="507.5" width="114.10000000000001" height="113.0" fill="none" stroke="#7a7a7a" stroke-width="1.1"/>
<line x1="178.9" y1="507.5" x2="178.9" y2="620.5" stroke="#444" stroke-width="1.2" stroke-linecap="butt"/>
<polyline points="64.8,600.0 65.5,599.2 66.0,592.3 67.8,583.1 69.5,575.0 71.8,565.8 73.5,558.5 75.0,551.7 77.6,543.1 79.8,531.0 81.5,522.3 82.4,520.1 83.7,529.2 85.0,537.0 86.7,541.3 88.4,548.3 89.7,555.2 90.6,560.0 91.4,565.0 92.0,575.0 93.7,590.0 96.0,603.8 98.9,610.8 103.5,616.0 110.5,617.7 119.7,618.6 178.0,619.0" fill="none" stroke="#a8a8a8" stroke-width="0.9" stroke-linejoin="round"/>
<polyline points="64.8,541.6 65.3,600.4 67.8,596.9 70.7,590.0 73.5,581.9 76.4,571.5 77.6,565.0 78.5,560.0 81.1,548.3 83.7,537.9 85.8,527.5 87.5,519.7 88.8,513.7 90.1,516.2 91.9,518.0 93.2,522.3 95.3,527.5 96.6,533.6 98.4,536.2 100.5,540.5 102.7,545.7 104.9,548.7 107.0,553.5 109.6,558.7 112.8,565.0 113.9,569.2 117.7,579.6 122.6,590.0 127.2,598.1 131.8,605.0 136.5,610.8 141.1,614.8 145.7,617.1 151.5,618.3 158.4,618.8 178.0,619.0" fill="none" stroke="#111" stroke-width="1.05" stroke-linejoin="round"/>
<line x1="64.8" y1="510.0" x2="64.8" y2="621.1" stroke="#222" stroke-width="1.5" stroke-linecap="butt"/>
<line x1="64.2" y1="620.5" x2="179.5" y2="620.5" stroke="#8a8a8a" stroke-width="1.1" stroke-linecap="butt"/>
<line x1="61.8" y1="620.5" x2="64.8" y2="620.5" stroke="#222" stroke-width="1.0" stroke-linecap="butt"/>
<line x1="63.4" y1="615.14" x2="64.8" y2="615.14" stroke="#444" stroke-width="0.8" stroke-linecap="butt"/>
<line x1="63.4" y1="609.78" x2="64.8" y2="609.78" stroke="#444" stroke-width="0.8" stroke-linecap="butt"/>
<line x1="63.4" y1="604.42" x2="64.8" y2="604.42" stroke="#444" stroke-width="0.8" stroke-linecap="butt"/>
<line x1="61.8" y1="599.06" x2="64.8" y2="599.06" stroke="#222" stroke-width="1.0" stroke-linecap="butt"/>
<line x1="63.4" y1="593.7" x2="64.8" y2="593.7" stroke="#444" stroke-width="0.8" stroke-linecap="butt"/>
<line x1="63.4" y1="588.34" x2="64.8" y2="588.34" stroke="#444" stroke-width="0.8" stroke-linecap="butt"/>
<line x1="63.4" y1="582.98" x2="64.8" y2="582.98" stroke="#444" stroke-width="0.8" stroke-linecap="butt"/>
<line x1="61.8" y1="577.62" x2="64.8" y2="577.62" stroke="#222" stroke-width="1.0" stroke-linecap="butt"/>
<line x1="63.4" y1="572.26" x2="64.8" y2="572.26" stroke="#444" stroke-width="0.8" stroke-linecap="butt"/>
<line x1="63.4" y1="566.9" x2="64.8" y2="566.9" stroke="#444" stroke-width="0.8" stroke-linecap="butt"/>
<line x1="63.4" y1="561.54" x2="64.8" y2="561.54" stroke="#444" stroke-width="0.8" stroke-linecap="butt"/>
<line x1="61.8" y1="556.18" x2="64.8" y2="556.18" stroke="#222" stroke-width="1.0" stroke-linecap="butt"/>
<line x1="63.4" y1="550.8199999999999" x2="64.8" y2="550.8199999999999" stroke="#444" stroke-width="0.8" stroke-linecap="butt"/>
<line x1="63.4" y1="545.46" x2="64.8" y2="545.46" stroke="#444" stroke-width="0.8" stroke-linecap="butt"/>
<line x1="63.4" y1="540.1" x2="64.8" y2="540.1" stroke="#444" stroke-width="0.8" stroke-linecap="butt"/>
<line x1="61.8" y1="534.74" x2="64.8" y2="534.74" stroke="#222" stroke-width="1.0" stroke-linecap="butt"/>
<line x1="63.4" y1="529.38" x2="64.8" y2="529.38" stroke="#444" stroke-width="0.8" stroke-linecap="butt"/>
<line x1="63.4" y1="524.02" x2="64.8" y2="524.02" stroke="#444" stroke-width="0.8" stroke-linecap="butt"/>
<line x1="63.4" y1="518.66" x2="64.8" y2="518.66" stroke="#444" stroke-width="0.8" stroke-linecap="butt"/>
<line x1="61.8" y1="513.3" x2="64.8" y2="513.3" stroke="#222" stroke-width="1.0" stroke-linecap="butt"/>
<line x1="64.8" y1="620.5" x2="64.8" y2="623.1" stroke="#333" stroke-width="0.8" stroke-linecap="butt"/>
<line x1="73.38688062631506" y1="620.5" x2="73.38688062631506" y2="622.0" stroke="#333" stroke-width="0.8" stroke-linecap="butt"/>
<line x1="78.40988379087837" y1="620.5" x2="78.40988379087837" y2="622.0" stroke="#333" stroke-width="0.8" stroke-linecap="butt"/>
<line x1="81.97376125263013" y1="620.5" x2="81.97376125263013" y2="622.0" stroke="#333" stroke-width="0.8" stroke-linecap="butt"/>
<line x1="84.73811937368494" y1="620.5" x2="84.73811937368494" y2="622.0" stroke="#333" stroke-width="0.8" stroke-linecap="butt"/>
<line x1="86.99676441719343" y1="620.5" x2="86.99676441719343" y2="622.0" stroke="#333" stroke-width="0.8" stroke-linecap="butt"/>
<line x1="88.90642159140667" y1="620.5" x2="88.90642159140667" y2="622.0" stroke="#333" stroke-width="0.8" stroke-linecap="butt"/>
<line x1="90.56064187894519" y1="620.5" x2="90.56064187894519" y2="622.0" stroke="#333" stroke-width="0.8" stroke-linecap="butt"/>
<line x1="92.01976758175674" y1="620.5" x2="92.01976758175674" y2="622.0" stroke="#333" stroke-width="0.8" stroke-linecap="butt"/>
<line x1="93.325" y1="620.5" x2="93.325" y2="623.1" stroke="#333" stroke-width="0.8" stroke-linecap="butt"/>
<line x1="101.91188062631507" y1="620.5" x2="101.91188062631507" y2="622.0" stroke="#333" stroke-width="0.8" stroke-linecap="butt"/>
<line x1="106.93488379087836" y1="620.5" x2="106.93488379087836" y2="622.0" stroke="#333" stroke-width="0.8" stroke-linecap="butt"/>
<line x1="110.49876125263013" y1="620.5" x2="110.49876125263013" y2="622.0" stroke="#333" stroke-width="0.8" stroke-linecap="butt"/>
<line x1="113.26311937368493" y1="620.5" x2="113.26311937368493" y2="622.0" stroke="#333" stroke-width="0.8" stroke-linecap="butt"/>
<line x1="115.52176441719344" y1="620.5" x2="115.52176441719344" y2="622.0" stroke="#333" stroke-width="0.8" stroke-linecap="butt"/>
<line x1="117.43142159140669" y1="620.5" x2="117.43142159140669" y2="622.0" stroke="#333" stroke-width="0.8" stroke-linecap="butt"/>
<line x1="119.08564187894518" y1="620.5" x2="119.08564187894518" y2="622.0" stroke="#333" stroke-width="0.8" stroke-linecap="butt"/>
<line x1="120.54476758175673" y1="620.5" x2="120.54476758175673" y2="622.0" stroke="#333" stroke-width="0.8" stroke-linecap="butt"/>
<line x1="121.85" y1="620.5" x2="121.85" y2="623.1" stroke="#333" stroke-width="0.8" stroke-linecap="butt"/>
<line x1="130.4368806263151" y1="620.5" x2="130.4368806263151" y2="622.0" stroke="#333" stroke-width="0.8" stroke-linecap="butt"/>
<line x1="135.4598837908784" y1="620.5" x2="135.4598837908784" y2="622.0" stroke="#333" stroke-width="0.8" stroke-linecap="butt"/>
<line x1="139.02376125263015" y1="620.5" x2="139.02376125263015" y2="622.0" stroke="#333" stroke-width="0.8" stroke-linecap="butt"/>
<line x1="141.78811937368494" y1="620.5" x2="141.78811937368494" y2="622.0" stroke="#333" stroke-width="0.8" stroke-linecap="butt"/>
<line x1="144.04676441719346" y1="620.5" x2="144.04676441719346" y2="622.0" stroke="#333" stroke-width="0.8" stroke-linecap="butt"/>
<line x1="145.9564215914067" y1="620.5" x2="145.9564215914067" y2="622.0" stroke="#333" stroke-width="0.8" stroke-linecap="butt"/>
<line x1="147.61064187894522" y1="620.5" x2="147.61064187894522" y2="622.0" stroke="#333" stroke-width="0.8" stroke-linecap="butt"/>
<line x1="149.06976758175674" y1="620.5" x2="149.06976758175674" y2="622.0" stroke="#333" stroke-width="0.8" stroke-linecap="butt"/>
<line x1="150.375" y1="620.5" x2="150.375" y2="623.1" stroke="#333" stroke-width="0.8" stroke-linecap="butt"/>
<line x1="158.96188062631506" y1="620.5" x2="158.96188062631506" y2="622.0" stroke="#333" stroke-width="0.8" stroke-linecap="butt"/>
<line x1="163.98488379087837" y1="620.5" x2="163.98488379087837" y2="622.0" stroke="#333" stroke-width="0.8" stroke-linecap="butt"/>
<line x1="167.54876125263013" y1="620.5" x2="167.54876125263013" y2="622.0" stroke="#333" stroke-width="0.8" stroke-linecap="butt"/>
<line x1="170.31311937368494" y1="620.5" x2="170.31311937368494" y2="622.0" stroke="#333" stroke-width="0.8" stroke-linecap="butt"/>
<line x1="172.57176441719344" y1="620.5" x2="172.57176441719344" y2="622.0" stroke="#333" stroke-width="0.8" stroke-linecap="butt"/>
<line x1="174.48142159140667" y1="620.5" x2="174.48142159140667" y2="622.0" stroke="#333" stroke-width="0.8" stroke-linecap="butt"/>
<line x1="176.1356418789452" y1="620.5" x2="176.1356418789452" y2="622.0" stroke="#333" stroke-width="0.8" stroke-linecap="butt"/>
<line x1="177.59476758175674" y1="620.5" x2="177.59476758175674" y2="622.0" stroke="#333" stroke-width="0.8" stroke-linecap="butt"/>
<line x1="178.9" y1="620.5" x2="178.9" y2="623.1" stroke="#333" stroke-width="0.8" stroke-linecap="butt"/>
<line x1="106.4" y1="529.2" x2="176.5" y2="529.2" stroke="#222" stroke-width="1.3" stroke-linecap="butt"/>
<line x1="106.4" y1="527.3000000000001" x2="106.4" y2="531.1" stroke="#222" stroke-width="1.1" stroke-linecap="butt"/>
<line x1="176.5" y1="527.3000000000001" x2="176.5" y2="531.1" stroke="#222" stroke-width="1.1" stroke-linecap="butt"/>
<text x="141.45" y="524.0" font-size="8.1" font-weight="bold" font-style="normal" text-anchor="middle" fill="#000" >22.9%</text>
<text x="59.8" y="620.4000000000001" font-size="7.7" font-weight="bold" font-style="normal" text-anchor="end" fill="#111" >0</text>
<text x="59.8" y="601.76" font-size="7.7" font-weight="bold" font-style="normal" text-anchor="end" fill="#111" >20</text>
<text x="59.8" y="580.32" font-size="7.7" font-weight="bold" font-style="normal" text-anchor="end" fill="#111" >40</text>
<text x="59.8" y="558.88" font-size="7.7" font-weight="bold" font-style="normal" text-anchor="end" fill="#111" >60</text>
<text x="59.8" y="537.44" font-size="7.7" font-weight="bold" font-style="normal" text-anchor="end" fill="#111" >80</text>
<text x="59.8" y="516.0" font-size="7.7" font-weight="bold" font-style="normal" text-anchor="end" fill="#111" >100</text>
<text x="67.3" y="632.4" font-size="7.6" font-weight="bold" fill="#111">10<tspan dy="-4.6" font-size="5.8">0</tspan></text>
<text x="90.19999999999999" y="632.4" font-size="7.6" font-weight="bold" fill="#111">10<tspan dy="-4.6" font-size="5.8">1</tspan></text>
<text x="116.4" y="632.4" font-size="7.6" font-weight="bold" fill="#111">10<tspan dy="-4.6" font-size="5.8">2</tspan></text>
<text x="142.8" y="632.4" font-size="7.6" font-weight="bold" fill="#111">10<tspan dy="-4.6" font-size="5.8">3</tspan></text>
<text x="168.3" y="632.4" font-size="7.6" font-weight="bold" fill="#111">10<tspan dy="-4.6" font-size="5.8">4</tspan></text>
<rect x="191.6" y="508.0" width="113.79999999999998" height="112.70000000000005" fill="none" stroke="#7a7a7a" stroke-width="1.1"/>
<line x1="305.4" y1="508.0" x2="305.4" y2="620.7" stroke="#444" stroke-width="1.2" stroke-linecap="butt"/>
<polyline points="192.0,592.0 192.5,590.0 194.2,584.2 196.5,576.2 198.8,566.9 200.5,560.0 201.7,553.5 204.0,545.4 206.3,535.0 208.0,524.6 209.2,520.0 210.3,524.6 211.5,535.0 213.2,539.6 215.0,548.8 216.7,556.9 217.3,560.0 217.8,565.0 218.4,571.5 220.2,588.8 222.5,603.8 225.9,613.1 230.5,617.1 237.5,618.6 305.0,619.0" fill="none" stroke="#a8a8a8" stroke-width="0.9" stroke-linejoin="round"/>
<polyline points="192.0,600.0 194.2,595.8 197.1,588.8 200.0,580.8 202.8,570.4 204.2,565.0 205.2,560.0 206.3,553.5 208.6,541.9 210.9,530.4 213.2,522.3 215.3,515.4 217.3,518.8 219.0,521.2 221.3,531.5 223.6,541.9 225.9,553.5 226.7,560.0 227.5,565.0 228.2,569.2 230.5,575.0 232.8,581.9 236.3,588.8 239.8,595.8 244.4,601.5 249.0,605.6 252.0,607.2 256.0,609.0 260.0,612.5 264.6,616.0 269.2,618.3 275.0,619.0 305.0,619.1" fill="none" stroke="#111" stroke-width="1.05" stroke-linejoin="round"/>
<line x1="191.6" y1="510.5" x2="191.6" y2="621.3000000000001" stroke="#222" stroke-width="1.5" stroke-linecap="butt"/>
<line x1="191.0" y1="620.7" x2="306.0" y2="620.7" stroke="#8a8a8a" stroke-width="1.1" stroke-linecap="butt"/>
<line x1="188.6" y1="620.7" x2="191.6" y2="620.7" stroke="#222" stroke-width="1.0" stroke-linecap="butt"/>
<line x1="190.2" y1="615.355" x2="191.6" y2="615.355" stroke="#444" stroke-width="0.8" stroke-linecap="butt"/>
<line x1="190.2" y1="610.01" x2="191.6" y2="610.01" stroke="#444" stroke-width="0.8" stroke-linecap="butt"/>
<line x1="190.2" y1="604.6650000000001" x2="191.6" y2="604.6650000000001" stroke="#444" stroke-width="0.8" stroke-linecap="butt"/>
<line x1="188.6" y1="599.32" x2="191.6" y2="599.32" stroke="#222" stroke-width="1.0" stroke-linecap="butt"/>
<line x1="190.2" y1="593.975" x2="191.6" y2="593.975" stroke="#444" stroke-width="0.8" stroke-linecap="butt"/>
<line x1="190.2" y1="588.63" x2="191.6" y2="588.63" stroke="#444" stroke-width="0.8" stroke-linecap="butt"/>
<line x1="190.2" y1="583.2850000000001" x2="191.6" y2="583.2850000000001" stroke="#444" stroke-width="0.8" stroke-linecap="butt"/>
<line x1="188.6" y1="577.94" x2="191.6" y2="577.94" stroke="#222" stroke-width="1.0" stroke-linecap="butt"/>
<line x1="190.2" y1="572.595" x2="191.6" y2="572.595" stroke="#444" stroke-width="0.8" stroke-linecap="butt"/>
<line x1="190.2" y1="567.25" x2="191.6" y2="567.25" stroke="#444" stroke-width="0.8" stroke-linecap="butt"/>
<line x1="190.2" y1="561.905" x2="191.6" y2="561.905" stroke="#444" stroke-width="0.8" stroke-linecap="butt"/>
<line x1="188.6" y1="556.5600000000001" x2="191.6" y2="556.5600000000001" stroke="#222" stroke-width="1.0" stroke-linecap="butt"/>
<line x1="190.2" y1="551.215" x2="191.6" y2="551.215" stroke="#444" stroke-width="0.8" stroke-linecap="butt"/>
<line x1="190.2" y1="545.87" x2="191.6" y2="545.87" stroke="#444" stroke-width="0.8" stroke-linecap="butt"/>
<line x1="190.2" y1="540.525" x2="191.6" y2="540.525" stroke="#444" stroke-width="0.8" stroke-linecap="butt"/>
<line x1="188.6" y1="535.1800000000001" x2="191.6" y2="535.1800000000001" stroke="#222" stroke-width="1.0" stroke-linecap="butt"/>
<line x1="190.2" y1="529.835" x2="191.6" y2="529.835" stroke="#444" stroke-width="0.8" stroke-linecap="butt"/>
<line x1="190.2" y1="524.49" x2="191.6" y2="524.49" stroke="#444" stroke-width="0.8" stroke-linecap="butt"/>
<line x1="190.2" y1="519.145" x2="191.6" y2="519.145" stroke="#444" stroke-width="0.8" stroke-linecap="butt"/>
<line x1="188.6" y1="513.8" x2="191.6" y2="513.8" stroke="#222" stroke-width="1.0" stroke-linecap="butt"/>
<line x1="191.6" y1="620.7" x2="191.6" y2="623.3000000000001" stroke="#333" stroke-width="0.8" stroke-linecap="butt"/>
<line x1="200.16430337664025" y1="620.7" x2="200.16430337664025" y2="622.2" stroke="#333" stroke-width="0.8" stroke-linecap="butt"/>
<line x1="205.1740996967744" y1="620.7" x2="205.1740996967744" y2="622.2" stroke="#333" stroke-width="0.8" stroke-linecap="butt"/>
<line x1="208.72860675328053" y1="620.7" x2="208.72860675328053" y2="622.2" stroke="#333" stroke-width="0.8" stroke-linecap="butt"/>
<line x1="211.48569662335973" y1="620.7" x2="211.48569662335973" y2="622.2" stroke="#333" stroke-width="0.8" stroke-linecap="butt"/>
<line x1="213.73840307341464" y1="620.7" x2="213.73840307341464" y2="622.2" stroke="#333" stroke-width="0.8" stroke-linecap="butt"/>
<line x1="215.6430392384056" y1="620.7" x2="215.6430392384056" y2="622.2" stroke="#333" stroke-width="0.8" stroke-linecap="butt"/>
<line x1="217.29291012992078" y1="620.7" x2="217.29291012992078" y2="622.2" stroke="#333" stroke-width="0.8" stroke-linecap="butt"/>
<line x1="218.7481993935488" y1="620.7" x2="218.7481993935488" y2="622.2" stroke="#333" stroke-width="0.8" stroke-linecap="butt"/>
<line x1="220.04999999999998" y1="620.7" x2="220.04999999999998" y2="623.3000000000001" stroke="#333" stroke-width="0.8" stroke-linecap="butt"/>
<line x1="228.61430337664027" y1="620.7" x2="228.61430337664027" y2="622.2" stroke="#333" stroke-width="0.8" stroke-linecap="butt"/>
<line x1="233.62409969677438" y1="620.7" x2="233.62409969677438" y2="622.2" stroke="#333" stroke-width="0.8" stroke-linecap="butt"/>
<line x1="237.17860675328052" y1="620.7" x2="237.17860675328052" y2="622.2" stroke="#333" stroke-width="0.8" stroke-linecap="butt"/>
<line x1="239.93569662335972" y1="620.7" x2="239.93569662335972" y2="622.2" stroke="#333" stroke-width="0.8" stroke-linecap="butt"/>
<line x1="242.18840307341463" y1="620.7" x2="242.18840307341463" y2="622.2" stroke="#333" stroke-width="0.8" stroke-linecap="butt"/>
<line x1="244.0930392384056" y1="620.7" x2="244.0930392384056" y2="622.2" stroke="#333" stroke-width="0.8" stroke-linecap="butt"/>
<line x1="245.74291012992077" y1="620.7" x2="245.74291012992077" y2="622.2" stroke="#333" stroke-width="0.8" stroke-linecap="butt"/>
<line x1="247.19819939354878" y1="620.7" x2="247.19819939354878" y2="622.2" stroke="#333" stroke-width="0.8" stroke-linecap="butt"/>
<line x1="248.5" y1="620.7" x2="248.5" y2="623.3000000000001" stroke="#333" stroke-width="0.8" stroke-linecap="butt"/>
<line x1="257.0643033766403" y1="620.7" x2="257.0643033766403" y2="622.2" stroke="#333" stroke-width="0.8" stroke-linecap="butt"/>
<line x1="262.0740996967744" y1="620.7" x2="262.0740996967744" y2="622.2" stroke="#333" stroke-width="0.8" stroke-linecap="butt"/>
<line x1="265.6286067532805" y1="620.7" x2="265.6286067532805" y2="622.2" stroke="#333" stroke-width="0.8" stroke-linecap="butt"/>
<line x1="268.3856966233597" y1="620.7" x2="268.3856966233597" y2="622.2" stroke="#333" stroke-width="0.8" stroke-linecap="butt"/>
<line x1="270.6384030734147" y1="620.7" x2="270.6384030734147" y2="622.2" stroke="#333" stroke-width="0.8" stroke-linecap="butt"/>
<line x1="272.5430392384056" y1="620.7" x2="272.5430392384056" y2="622.2" stroke="#333" stroke-width="0.8" stroke-linecap="butt"/>
<line x1="274.1929101299208" y1="620.7" x2="274.1929101299208" y2="622.2" stroke="#333" stroke-width="0.8" stroke-linecap="butt"/>
<line x1="275.6481993935488" y1="620.7" x2="275.6481993935488" y2="622.2" stroke="#333" stroke-width="0.8" stroke-linecap="butt"/>
<line x1="276.95" y1="620.7" x2="276.95" y2="623.3000000000001" stroke="#333" stroke-width="0.8" stroke-linecap="butt"/>
<line x1="285.5143033766402" y1="620.7" x2="285.5143033766402" y2="622.2" stroke="#333" stroke-width="0.8" stroke-linecap="butt"/>
<line x1="290.5240996967744" y1="620.7" x2="290.5240996967744" y2="622.2" stroke="#333" stroke-width="0.8" stroke-linecap="butt"/>
<line x1="294.0786067532805" y1="620.7" x2="294.0786067532805" y2="622.2" stroke="#333" stroke-width="0.8" stroke-linecap="butt"/>
<line x1="296.8356966233597" y1="620.7" x2="296.8356966233597" y2="622.2" stroke="#333" stroke-width="0.8" stroke-linecap="butt"/>
<line x1="299.0884030734146" y1="620.7" x2="299.0884030734146" y2="622.2" stroke="#333" stroke-width="0.8" stroke-linecap="butt"/>
<line x1="300.9930392384056" y1="620.7" x2="300.9930392384056" y2="622.2" stroke="#333" stroke-width="0.8" stroke-linecap="butt"/>
<line x1="302.6429101299208" y1="620.7" x2="302.6429101299208" y2="622.2" stroke="#333" stroke-width="0.8" stroke-linecap="butt"/>
<line x1="304.0981993935488" y1="620.7" x2="304.0981993935488" y2="622.2" stroke="#333" stroke-width="0.8" stroke-linecap="butt"/>
<line x1="305.4" y1="620.7" x2="305.4" y2="623.3000000000001" stroke="#333" stroke-width="0.8" stroke-linecap="butt"/>
<line x1="232.7" y1="529.6" x2="303.5" y2="529.6" stroke="#222" stroke-width="1.3" stroke-linecap="butt"/>
<line x1="232.7" y1="527.7" x2="232.7" y2="531.5" stroke="#222" stroke-width="1.1" stroke-linecap="butt"/>
<line x1="303.5" y1="527.7" x2="303.5" y2="531.5" stroke="#222" stroke-width="1.1" stroke-linecap="butt"/>
<text x="268.1" y="524.4" font-size="8.1" font-weight="bold" font-style="normal" text-anchor="middle" fill="#000" >14.6%</text>
<text x="194.1" y="632.6" font-size="7.6" font-weight="bold" fill="#111">10<tspan dy="-4.6" font-size="5.8">0</tspan></text>
<text x="217.0" y="632.6" font-size="7.6" font-weight="bold" fill="#111">10<tspan dy="-4.6" font-size="5.8">1</tspan></text>
<text x="243.2" y="632.6" font-size="7.6" font-weight="bold" fill="#111">10<tspan dy="-4.6" font-size="5.8">2</tspan></text>
<text x="269.6" y="632.6" font-size="7.6" font-weight="bold" fill="#111">10<tspan dy="-4.6" font-size="5.8">3</tspan></text>
<text x="295.1" y="632.6" font-size="7.6" font-weight="bold" fill="#111">10<tspan dy="-4.6" font-size="5.8">4</tspan></text>
<rect x="320.0" y="508.3" width="113.39999999999998" height="112.49999999999994" fill="none" stroke="#7a7a7a" stroke-width="1.1"/>
<line x1="433.4" y1="508.3" x2="433.4" y2="620.8" stroke="#444" stroke-width="1.2" stroke-linecap="butt"/>
<polyline points="320.4,600.0 320.9,592.3 322.0,583.1 323.8,577.3 326.1,569.2 326.9,565.0 327.8,560.0 329.0,554.6 331.3,546.5 333.0,540.8 334.7,532.7 335.9,524.6 336.7,520.0 337.8,525.8 339.3,533.8 341.1,538.5 342.8,545.4 344.5,555.8 345.4,562.0 346.8,577.3 348.6,592.3 350.9,605.0 353.8,611.9 359.5,616.5 366.5,618.3 375.7,618.8 433.0,619.2" fill="none" stroke="#a8a8a8" stroke-width="0.9" stroke-linejoin="round"/>
<polyline points="320.4,617.8 324.9,617.1 329.5,615.4 334.2,609.6 337.6,602.7 339.9,594.6 341.7,586.5 344.0,578.5 345.7,569.2 346.8,565.0 347.8,558.0 348.6,553.5 350.3,543.1 352.6,532.7 354.3,527.5 356.1,522.3 357.8,524.0 359.3,516.5 360.7,521.2 361.3,529.2 363.0,533.8 364.2,532.7 365.3,537.3 366.5,548.8 368.2,554.6 368.8,560.0 369.9,565.0 370.5,571.5 373.4,581.9 375.7,588.5 378.0,593.0 380.3,601.5 382.7,606.2 385.5,609.6 390.2,613.1 393.6,614.8 397.1,617.1 401.7,618.3 408.6,618.8 417.8,619.2 433.0,619.3" fill="none" stroke="#111" stroke-width="1.05" stroke-linejoin="round"/>
<line x1="320.0" y1="510.8" x2="320.0" y2="621.4" stroke="#222" stroke-width="1.5" stroke-linecap="butt"/>
<line x1="319.4" y1="620.8" x2="434.0" y2="620.8" stroke="#8a8a8a" stroke-width="1.1" stroke-linecap="butt"/>
<line x1="317.0" y1="620.8" x2="320.0" y2="620.8" stroke="#222" stroke-width="1.0" stroke-linecap="butt"/>
<line x1="318.6" y1="615.4649999999999" x2="320.0" y2="615.4649999999999" stroke="#444" stroke-width="0.8" stroke-linecap="butt"/>
<line x1="318.6" y1="610.13" x2="320.0" y2="610.13" stroke="#444" stroke-width="0.8" stroke-linecap="butt"/>
<line x1="318.6" y1="604.795" x2="320.0" y2="604.795" stroke="#444" stroke-width="0.8" stroke-linecap="butt"/>
<line x1="317.0" y1="599.4599999999999" x2="320.0" y2="599.4599999999999" stroke="#222" stroke-width="1.0" stroke-linecap="butt"/>
<line x1="318.6" y1="594.125" x2="320.0" y2="594.125" stroke="#444" stroke-width="0.8" stroke-linecap="butt"/>
<line x1="318.6" y1="588.79" x2="320.0" y2="588.79" stroke="#444" stroke-width="0.8" stroke-linecap="butt"/>
<line x1="318.6" y1="583.4549999999999" x2="320.0" y2="583.4549999999999" stroke="#444" stroke-width="0.8" stroke-linecap="butt"/>
<line x1="317.0" y1="578.12" x2="320.0" y2="578.12" stroke="#222" stroke-width="1.0" stroke-linecap="butt"/>
<line x1="318.6" y1="572.785" x2="320.0" y2="572.785" stroke="#444" stroke-width="0.8" stroke-linecap="butt"/>
<line x1="318.6" y1="567.4499999999999" x2="320.0" y2="567.4499999999999" stroke="#444" stroke-width="0.8" stroke-linecap="butt"/>
<line x1="318.6" y1="562.115" x2="320.0" y2="562.115" stroke="#444" stroke-width="0.8" stroke-linecap="butt"/>
<line x1="317.0" y1="556.78" x2="320.0" y2="556.78" stroke="#222" stroke-width="1.0" stroke-linecap="butt"/>
<line x1="318.6" y1="551.4449999999999" x2="320.0" y2="551.4449999999999" stroke="#444" stroke-width="0.8" stroke-linecap="butt"/>
<line x1="318.6" y1="546.11" x2="320.0" y2="546.11" stroke="#444" stroke-width="0.8" stroke-linecap="butt"/>
<line x1="318.6" y1="540.775" x2="320.0" y2="540.775" stroke="#444" stroke-width="0.8" stroke-linecap="butt"/>
<line x1="317.0" y1="535.44" x2="320.0" y2="535.44" stroke="#222" stroke-width="1.0" stroke-linecap="butt"/>
<line x1="318.6" y1="530.105" x2="320.0" y2="530.105" stroke="#444" stroke-width="0.8" stroke-linecap="butt"/>
<line x1="318.6" y1="524.77" x2="320.0" y2="524.77" stroke="#444" stroke-width="0.8" stroke-linecap="butt"/>
<line x1="318.6" y1="519.435" x2="320.0" y2="519.435" stroke="#444" stroke-width="0.8" stroke-linecap="butt"/>
<line x1="317.0" y1="514.1" x2="320.0" y2="514.1" stroke="#222" stroke-width="1.0" stroke-linecap="butt"/>
<line x1="320.0" y1="620.8" x2="320.0" y2="623.4" stroke="#333" stroke-width="0.8" stroke-linecap="butt"/>
<line x1="328.5342003770739" y1="620.8" x2="328.5342003770739" y2="622.3" stroke="#333" stroke-width="0.8" stroke-linecap="butt"/>
<line x1="333.52638757130245" y1="620.8" x2="333.52638757130245" y2="622.3" stroke="#333" stroke-width="0.8" stroke-linecap="butt"/>
<line x1="337.0684007541477" y1="620.8" x2="337.0684007541477" y2="622.3" stroke="#333" stroke-width="0.8" stroke-linecap="butt"/>
<line x1="339.81579962292614" y1="620.8" x2="339.81579962292614" y2="622.3" stroke="#333" stroke-width="0.8" stroke-linecap="butt"/>
<line x1="342.0605879483763" y1="620.8" x2="342.0605879483763" y2="622.3" stroke="#333" stroke-width="0.8" stroke-linecap="butt"/>
<line x1="343.95852943440417" y1="620.8" x2="343.95852943440417" y2="622.3" stroke="#333" stroke-width="0.8" stroke-linecap="butt"/>
<line x1="345.6026011312216" y1="620.8" x2="345.6026011312216" y2="622.3" stroke="#333" stroke-width="0.8" stroke-linecap="butt"/>
<line x1="347.05277514260484" y1="620.8" x2="347.05277514260484" y2="622.3" stroke="#333" stroke-width="0.8" stroke-linecap="butt"/>
<line x1="348.35" y1="620.8" x2="348.35" y2="623.4" stroke="#333" stroke-width="0.8" stroke-linecap="butt"/>
<line x1="356.88420037707385" y1="620.8" x2="356.88420037707385" y2="622.3" stroke="#333" stroke-width="0.8" stroke-linecap="butt"/>
<line x1="361.8763875713024" y1="620.8" x2="361.8763875713024" y2="622.3" stroke="#333" stroke-width="0.8" stroke-linecap="butt"/>
<line x1="365.41840075414774" y1="620.8" x2="365.41840075414774" y2="622.3" stroke="#333" stroke-width="0.8" stroke-linecap="butt"/>
<line x1="368.1657996229261" y1="620.8" x2="368.1657996229261" y2="622.3" stroke="#333" stroke-width="0.8" stroke-linecap="butt"/>
<line x1="370.4105879483763" y1="620.8" x2="370.4105879483763" y2="622.3" stroke="#333" stroke-width="0.8" stroke-linecap="butt"/>
<line x1="372.3085294344042" y1="620.8" x2="372.3085294344042" y2="622.3" stroke="#333" stroke-width="0.8" stroke-linecap="butt"/>
<line x1="373.95260113122157" y1="620.8" x2="373.95260113122157" y2="622.3" stroke="#333" stroke-width="0.8" stroke-linecap="butt"/>
<line x1="375.40277514260487" y1="620.8" x2="375.40277514260487" y2="622.3" stroke="#333" stroke-width="0.8" stroke-linecap="butt"/>
<line x1="376.7" y1="620.8" x2="376.7" y2="623.4" stroke="#333" stroke-width="0.8" stroke-linecap="butt"/>
<line x1="385.2342003770739" y1="620.8" x2="385.2342003770739" y2="622.3" stroke="#333" stroke-width="0.8" stroke-linecap="butt"/>
<line x1="390.22638757130244" y1="620.8" x2="390.22638757130244" y2="622.3" stroke="#333" stroke-width="0.8" stroke-linecap="butt"/>
<line x1="393.7684007541477" y1="620.8" x2="393.7684007541477" y2="622.3" stroke="#333" stroke-width="0.8" stroke-linecap="butt"/>
<line x1="396.5157996229261" y1="620.8" x2="396.5157996229261" y2="622.3" stroke="#333" stroke-width="0.8" stroke-linecap="butt"/>
<line x1="398.76058794837627" y1="620.8" x2="398.76058794837627" y2="622.3" stroke="#333" stroke-width="0.8" stroke-linecap="butt"/>
<line x1="400.65852943440416" y1="620.8" x2="400.65852943440416" y2="622.3" stroke="#333" stroke-width="0.8" stroke-linecap="butt"/>
<line x1="402.3026011312216" y1="620.8" x2="402.3026011312216" y2="622.3" stroke="#333" stroke-width="0.8" stroke-linecap="butt"/>
<line x1="403.75277514260483" y1="620.8" x2="403.75277514260483" y2="622.3" stroke="#333" stroke-width="0.8" stroke-linecap="butt"/>
<line x1="405.04999999999995" y1="620.8" x2="405.04999999999995" y2="623.4" stroke="#333" stroke-width="0.8" stroke-linecap="butt"/>
<line x1="413.58420037707384" y1="620.8" x2="413.58420037707384" y2="622.3" stroke="#333" stroke-width="0.8" stroke-linecap="butt"/>
<line x1="418.5763875713024" y1="620.8" x2="418.5763875713024" y2="622.3" stroke="#333" stroke-width="0.8" stroke-linecap="butt"/>
<line x1="422.11840075414773" y1="620.8" x2="422.11840075414773" y2="622.3" stroke="#333" stroke-width="0.8" stroke-linecap="butt"/>
<line x1="424.8657996229261" y1="620.8" x2="424.8657996229261" y2="622.3" stroke="#333" stroke-width="0.8" stroke-linecap="butt"/>
<line x1="427.1105879483763" y1="620.8" x2="427.1105879483763" y2="622.3" stroke="#333" stroke-width="0.8" stroke-linecap="butt"/>
<line x1="429.0085294344042" y1="620.8" x2="429.0085294344042" y2="622.3" stroke="#333" stroke-width="0.8" stroke-linecap="butt"/>
<line x1="430.65260113122156" y1="620.8" x2="430.65260113122156" y2="622.3" stroke="#333" stroke-width="0.8" stroke-linecap="butt"/>
<line x1="432.10277514260486" y1="620.8" x2="432.10277514260486" y2="622.3" stroke="#333" stroke-width="0.8" stroke-linecap="butt"/>
<line x1="433.4" y1="620.8" x2="433.4" y2="623.4" stroke="#333" stroke-width="0.8" stroke-linecap="butt"/>
<line x1="361.6" y1="529.2" x2="432.0" y2="529.2" stroke="#222" stroke-width="1.3" stroke-linecap="butt"/>
<line x1="361.6" y1="527.3000000000001" x2="361.6" y2="531.1" stroke="#222" stroke-width="1.1" stroke-linecap="butt"/>
<line x1="432.0" y1="527.3000000000001" x2="432.0" y2="531.1" stroke="#222" stroke-width="1.1" stroke-linecap="butt"/>
<text x="396.8" y="524.0" font-size="8.1" font-weight="bold" font-style="normal" text-anchor="middle" fill="#000" >41.9%</text>
<text x="322.5" y="632.6999999999999" font-size="7.6" font-weight="bold" fill="#111">10<tspan dy="-4.6" font-size="5.8">0</tspan></text>
<text x="345.4" y="632.6999999999999" font-size="7.6" font-weight="bold" fill="#111">10<tspan dy="-4.6" font-size="5.8">1</tspan></text>
<text x="371.6" y="632.6999999999999" font-size="7.6" font-weight="bold" fill="#111">10<tspan dy="-4.6" font-size="5.8">2</tspan></text>
<text x="398.0" y="632.6999999999999" font-size="7.6" font-weight="bold" fill="#111">10<tspan dy="-4.6" font-size="5.8">3</tspan></text>
<text x="423.5" y="632.6999999999999" font-size="7.6" font-weight="bold" fill="#111">10<tspan dy="-4.6" font-size="5.8">4</tspan></text>
</svg></body></html>
